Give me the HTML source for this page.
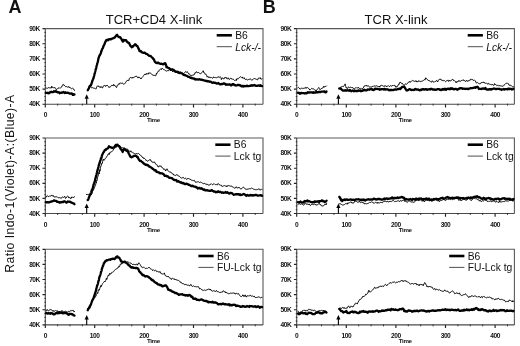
<!DOCTYPE html>
<html><head><meta charset="utf-8"><style>
html,body{margin:0;padding:0;background:#fff;width:520px;height:346px;overflow:hidden}
svg{display:block;will-change:transform;filter:blur(0.3px)}
text{font-family:"Liberation Sans", sans-serif;fill:#111}
.tk{font-size:6.6px;letter-spacing:-0.45px;font-weight:bold}
.tm{font-size:6.2px;letter-spacing:-0.4px;font-weight:bold}
.lg{font-size:10.3px}
.ti{font-size:13px}
.pl{font-size:18px;font-weight:bold}
.yl{font-size:12.2px}
</style></head><body>
<svg width="520" height="346" viewBox="0 0 520 346">
<text x="8.5" y="12.8" class="pl">A</text>
<text x="262.8" y="12.8" class="pl">B</text>
<text x="154" y="23.8" class="ti" text-anchor="middle">TCR+CD4 X-link</text>
<text x="396" y="23.8" class="ti" text-anchor="middle">TCR X-link</text>
<text transform="translate(13.6 183.8) rotate(-90)" class="yl" text-anchor="middle" textLength="178" lengthAdjust="spacing">Ratio Indo-1(Violet)-A:(Blue)-A</text>
<path d="M45.3 28.6H263V104.2" fill="none" stroke="#5a5a5a" stroke-width="1.1"/>
<path d="M45.3 28.6V104.2H263" fill="none" stroke="#4a4a4a" stroke-width="1.1"/>
<path d="M42.5 104.2H45.3M42.5 89.08H45.3M42.5 73.96H45.3M42.5 58.84H45.3M42.5 43.72H45.3M42.5 28.6H45.3M45.3 104.2V107.4M94.7 104.2V107.4M144.1 104.2V107.4M193.5 104.2V107.4M242.9 104.2V107.4" stroke="#222" stroke-width="1.15" fill="none"/>
<path d="M44.3 100.42H46M44.3 96.64H46M44.3 92.86H46M44.3 85.3H46M44.3 81.52H46M44.3 77.74H46M44.3 70.18H46M44.3 66.4H46M44.3 62.62H46M44.3 55.06H46M44.3 51.28H46M44.3 47.5H46M44.3 39.94H46M44.3 36.16H46M44.3 32.38H46M57.65 103.7V105.7M70 103.7V105.7M82.35 103.7V105.7M107.05 103.7V105.7M119.4 103.7V105.7M131.75 103.7V105.7M156.45 103.7V105.7M168.8 103.7V105.7M181.15 103.7V105.7M205.85 103.7V105.7M218.2 103.7V105.7M230.55 103.7V105.7M255.25 103.7V105.7" stroke="#222" stroke-width="0.8" fill="none"/>
<text x="39.9" y="106.3" class="tk" text-anchor="end">40K</text>
<text x="39.9" y="91.18" class="tk" text-anchor="end">50K</text>
<text x="39.9" y="76.06" class="tk" text-anchor="end">60K</text>
<text x="39.9" y="60.94" class="tk" text-anchor="end">70K</text>
<text x="39.9" y="45.82" class="tk" text-anchor="end">80K</text>
<text x="39.9" y="30.7" class="tk" text-anchor="end">90K</text>
<text x="45.3" y="117.2" class="tk" text-anchor="middle">0</text>
<text x="94.7" y="117.2" class="tk" text-anchor="middle">100</text>
<text x="144.1" y="117.2" class="tk" text-anchor="middle">200</text>
<text x="193.5" y="117.2" class="tk" text-anchor="middle">300</text>
<text x="242.9" y="117.2" class="tk" text-anchor="middle">400</text>
<text x="153.38" y="122.2" class="tm" text-anchor="middle">Time</text>
<path d="M216.7 35.3H231.9" stroke="#000" stroke-width="2.6"/>
<path d="M216.7 46.7H231.9" stroke="#222" stroke-width="0.8"/>
<text x="235.2" y="39" class="lg">B6</text>
<text x="235.2" y="50.6" class="lg" font-style="italic">Lck-/-</text>
<path d="M46 88 46.58 88.15 47.17 88.39 47.75 88.12 48.33 87.78 48.92 87.35 49.5 88.03 50.06 87.66 50.62 87.88 51.18 88.13 51.74 86.22 52.3 87.64 52.82 87.13 53.35 87.59 53.88 87.87 54.4 87.61 54.87 87.34 55.33 88.48 55.8 89.28 56.32 89.78 56.85 88.82 57.38 88.68 57.9 88.47 58.44 87.96 58.98 88.43 59.52 87.86 60.06 88.1 60.6 87.87 61.12 87.46 61.65 87.12 62.18 85.54 62.7 85.28 62.93 84.52 63.17 84.35 63.4 84.79 63.75 84.76 64.1 85.57 64.45 85.37 64.8 86 65.5 86.6 66.2 86.45 66.85 86.79 67.5 87.15 67.97 86.73 68.43 86.79 68.9 86.46 69.37 87.88 69.83 87.14 70.3 87.61 70.77 88.37 71.23 88.45 71.7 88.9 72.4 88.23 73.1 88.51 73.57 88.92 74.03 90.07 74.5 90.4" fill="none" stroke="#000" stroke-width="1.0" stroke-linejoin="round" stroke-linecap="round"/>
<path d="M87.75 90.25 88.17 88.62 88.6 88.45 89.03 88.58 89.45 87.04 89.88 87.04 90.3 86.82 90.95 87.46 91.6 87.75 92.25 87.66 92.9 87.67 93.55 88.09 94.2 88.18 94.85 88.38 95.5 88.72 95.87 89.1 96.24 88.64 96.61 87.21 96.99 86.64 97.36 85.82 97.73 86.2 98.1 85.96 98.53 85.91 98.97 86.98 99.4 87.08 99.83 86.84 100.27 86.67 100.7 87.6 101.22 86.56 101.74 87.16 102.26 87.95 102.78 87.72 103.3 86.04 103.88 85.46 104.47 85.55 105.05 85.88 105.63 86.41 106.22 85.04 106.8 85.7 107.38 85.4 107.97 86.05 108.55 86.85 109.13 87.66 109.72 86.77 110.3 86.83 110.87 86.37 111.43 85.4 112 85.41 112.57 85.44 113.13 85.93 113.7 84.35 114.28 85.61 114.87 85.37 115.45 86.56 116.03 87.01 116.62 87.53 117.2 85.57 117.64 84.93 118.08 85.19 118.51 84.58 118.95 83.67 119.39 84.22 119.83 83.1 120.26 83.04 120.7 83.06 121.27 83.28 121.83 83.35 122.4 83.1 122.97 83.44 123.53 84.28 124.1 83.95 124.5 83.96 124.9 83.32 125.3 83.11 125.7 82.41 126.1 81.51 126.5 81.16 127 81.06 127.5 80.39 128 80.18 128.5 80.9 128.92 80.24 129.34 78.58 129.76 77.95 130.18 77.86 130.6 77.42 131.2 77.45 131.8 78.29 132.4 77.27 133 78.11 133.6 77.4 134.2 77.04 134.8 76.87 135.4 76.64 135.97 75.89 136.53 76.41 137.1 76.62 137.67 77.78 138.23 77.82 138.8 76.84 139.37 77.58 139.93 77.72 140.5 78.62 140.9 77.9 141.3 78.73 141.7 77.91 142.1 77.59 142.5 77.09 142.9 76.57 143.3 76.12 143.7 75.43 144.1 75.07 144.5 74.32 145.01 74.94 145.53 73.88 146.04 74.57 146.55 73.46 147.06 74.15 147.57 73.7 148.09 74.23 148.6 72.87 149.3 73.2 150 72.64 150.5 72.88 151 73.59 151.5 74.24 152 74.75 152.5 74.91 153 75.24 153.5 75.09 154.02 75.86 154.54 75.3 155.06 75.39 155.58 75.87 156.1 75.04 156.49 73 156.88 73.41 157.27 72.51 157.66 72.38 158.05 71.52 158.45 71.08 158.84 71.44 159.23 70.16 159.62 69.75 160.01 69.64 160.4 69.3 160.92 68.73 161.44 69.62 161.96 68.23 162.48 68.45 163 68.71 163.45 69.1 163.9 69.77 164.35 69.83 164.8 69.95 165.37 70.48 165.93 71 166.5 71.08 167 70.67 167.5 70.64 168 70.44 168.5 70.62 169 70.35 169.5 69.06 170 68.87 170.56 69.54 171.11 69.78 171.67 70.51 172.22 71.03 172.78 71.84 173.33 70.79 173.89 71.18 174.44 71.22 175 72.27 175.56 71.45 176.11 72.63 176.67 72.04 177.22 72.77 177.78 72.91 178.33 73.73 178.89 73.24 179.44 73.04 180 73.33 180.5 73.28 181 72.69 181.5 73.4 182 73.33 182.5 72.89 183 73.7 183.61 73.65 184.23 73.07 184.84 72.46 185.46 71.58 186.07 71.89 186.69 72.3 187.3 71.62 187.82 72.73 188.34 73.13 188.86 74.18 189.38 73.9 189.9 74.72 190.48 75.2 191.07 75.96 191.65 75.3 192.23 75.17 192.82 75.35 193.4 74.98 193.97 75.06 194.53 74.18 195.1 72.52 195.67 72.86 196.23 71.77 196.8 71.83 197.38 72.77 197.97 72.6 198.55 72.51 199.13 72.94 199.72 73.39 200.3 73.69 200.88 73.59 201.47 72.84 202.05 72.49 202.63 71.62 203.22 70.73 203.8 72.64 204.29 72.59 204.77 73.39 205.26 74.47 205.74 74.06 206.23 74.46 206.71 75.64 207.2 77.1 207.78 76.46 208.37 77.56 208.95 76.74 209.53 77.63 210.12 77.96 210.7 77.28 211.28 77.47 211.87 77.81 212.45 78.24 213.03 78.03 213.62 76.86 214.2 77.17 214.65 77.7 215.1 77.88 215.55 77.51 216 77.44 216.58 77.94 217.16 77.27 217.74 77.1 218.32 76.88 218.9 76.77 219.31 77.47 219.73 76.88 220.14 76.71 220.56 77.08 220.97 77.43 221.39 79.58 221.8 78.69 222.38 77.84 222.96 78.12 223.54 78.96 224.12 78.86 224.7 77.55 225.28 77.73 225.86 76.99 226.44 78.32 227.02 78.46 227.6 79.17 228.18 77.76 228.76 78.75 229.34 79.5 229.92 79.14 230.5 78.23 231.07 78.59 231.64 78.54 232.21 79.45 232.78 78.89 233.35 79.29 233.92 79.82 234.49 80.44 235.06 80.28 235.63 79.92 236.2 80.58 236.75 78.78 237.3 79.22 237.85 78.27 238.4 78.6 238.95 77.8 239.5 77.45 240.05 77.04 240.6 76.74 241.14 77.26 241.68 77.49 242.21 77 242.75 78.22 243.29 78.1 243.82 78.1 244.36 77.8 244.9 79.18 245.48 79.56 246.06 78.91 246.64 79.26 247.22 79.88 247.8 80.03 248.41 79.54 249.03 79.57 249.64 79.26 250.26 78.64 250.87 79.46 251.49 80.27 252.1 79.53 252.73 79.83 253.36 79.21 253.99 78.4 254.61 78.61 255.24 78.92 255.87 78.9 256.5 79.23 257.11 79.86 257.72 79.74 258.33 78.17 258.94 78.22 259.56 78.2 260.17 77.55 260.78 79.02 261.39 79.11 262 78.9" fill="none" stroke="#000" stroke-width="1.0" stroke-linejoin="round" stroke-linecap="round"/>
<path d="M46 92.8 46.57 92.96 47.15 92.83 47.72 93.1 48.29 92.8 48.86 93.32 49.44 92.84 50.01 92.22 50.58 92.37 51.15 91.69 51.73 91.98 52.3 92.17 52.86 92.22 53.42 92.02 53.98 91.14 54.54 91.57 55.1 91.62 55.66 91.15 56.22 91.3 56.78 91.97 57.34 92.24 57.9 92.19 58.47 92.36 59.03 92.32 59.6 93.19 60.17 92.65 60.73 92.77 61.3 92.84 61.88 92.42 62.47 92.58 63.05 92.4 63.63 91.96 64.22 92.52 64.8 92.99 65.37 92.32 65.93 92.74 66.5 92.82 67.07 92.83 67.63 92.69 68.2 92.8 68.78 92.91 69.37 93.61 69.95 93.67 70.53 93.72 71.12 93.48 71.7 93.31 72.26 93.94 72.82 94.91 73.38 94.16 73.94 94.74 74.5 94.5" fill="none" stroke="#000" stroke-width="2.3" stroke-linejoin="round" stroke-linecap="round"/>
<path d="M87.75 90.25 88.04 89.65 88.33 89.31 88.61 88.59 88.9 88.22 89.19 87.26 89.47 86.53 89.76 86.02 90.05 86.15 90.34 85.82 90.62 85.58 90.91 85.2 91.2 84.63 91.42 84 91.63 83.23 91.85 82.61 92.07 82.02 92.28 81.05 92.5 80.52 92.72 80.09 92.93 79.59 93.15 79.03 93.37 78.31 93.58 77.98 93.8 76.91 93.94 76.46 94.09 75.99 94.23 75.52 94.38 74.74 94.52 73.96 94.67 73.53 94.81 73.12 94.96 72.55 95.1 71.97 95.24 71.53 95.39 71 95.53 70.49 95.68 69.22 95.82 69.31 95.97 68.76 96.11 68.54 96.26 67.94 96.4 66.58 96.55 65.77 96.71 65.48 96.86 65.16 97.01 64.82 97.16 63.55 97.32 63.11 97.47 62.89 97.62 62.59 97.78 61.75 97.93 61.4 98.08 60.51 98.24 59.51 98.39 58.85 98.54 58.37 98.69 57.89 98.85 57.17 99 56.92 99.22 56.4 99.43 55.46 99.65 55.34 99.87 55.29 100.08 54.72 100.3 54.26 100.52 53.73 100.73 53.37 100.95 52.9 101.17 52.12 101.38 50.96 101.6 50.88 101.84 50.02 102.07 49.32 102.31 48.73 102.55 48.34 102.78 48.35 103.02 47.73 103.25 46.95 103.49 46.11 103.73 45.68 103.96 45.24 104.2 44.59 104.53 44.07 104.85 43.04 105.17 42.08 105.5 41.77 105.83 40.96 106.15 40.27 106.47 40.46 106.8 39.97 107.38 39.58 107.97 40.29 108.55 39.69 109.13 39.09 109.72 39.29 110.3 39.16 110.87 39.29 111.43 38.77 112 38.56 112.57 38.5 113.13 38.08 113.7 38 114.12 37.65 114.55 37.69 114.97 37.14 115.4 36.76 115.83 35.91 116.25 35.55 116.67 35.24 117.1 34.82 117.52 35.61 117.94 36.31 118.36 36.65 118.78 36.71 119.2 37.16 119.7 37.34 120.2 37.14 120.7 37.91 121.2 38.47 121.41 38.95 121.63 39.64 121.84 40.05 122.06 39.87 122.27 40.44 122.49 41.06 122.7 41.66 122.95 41.35 123.2 41.09 123.45 41.17 123.7 39.88 124.35 40.49 125 40.19 125.65 40.04 126.3 40.45 126.67 41.39 127.05 41.81 127.42 42.32 127.8 42.29 128.18 42.28 128.55 43.1 128.93 43.07 129.3 43.32 129.66 44.19 130.01 44.94 130.37 45.81 130.73 46.08 131.09 46.39 131.44 46.97 131.8 47.28 132.32 46.41 132.84 46.69 133.36 45.85 133.88 45.62 134.4 45.01 134.73 44.88 135.07 44.23 135.4 44.27 135.8 44.64 136.2 45.09 136.6 45.84 137 46 137.4 46.04 137.69 46.75 137.97 47.33 138.26 48.15 138.54 48.69 138.83 49.2 139.11 49.62 139.4 50.97 139.9 51.15 140.4 51.39 140.9 51.07 141.4 51.91 141.9 52.44 142.4 52.48 142.92 52.67 143.43 52.79 143.95 52.93 144.47 52.56 144.98 52.92 145.5 53.31 146.07 53.8 146.64 53.93 147.21 54.05 147.79 54.74 148.36 55.14 148.93 55.65 149.5 55.9 149.94 55.85 150.39 56.02 150.83 56.27 151.27 56.57 151.71 57.23 152.16 57.6 152.6 57.79 152.94 58.18 153.29 59.05 153.63 59 153.97 59.41 154.31 60.5 154.66 61.3 155 61.98 155.5 62.05 156 62.85 156.5 62.99 157 62.88 157.57 63.04 158.13 62.56 158.7 63.02 159.27 63.48 159.83 63.63 160.4 63.77 160.98 63.68 161.57 63.91 162.15 63.91 162.73 64.36 163.32 64.3 163.9 64.18 164.22 63.46 164.55 63.41 164.88 63.25 165.2 63.14 165.36 63.54 165.52 63.99 165.69 64.38 165.85 64.25 166.01 64.86 166.18 65.5 166.34 66.64 166.5 67.22 167.02 66.98 167.54 67.36 168.06 67.71 168.58 68.06 169.1 68.15 169.68 68.69 170.27 69.2 170.85 69.9 171.43 69.71 172.02 69.3 172.6 69.46 173.18 69.89 173.77 69.99 174.35 70.77 174.93 71.05 175.52 71.74 176.1 71.61 176.68 71.94 177.27 71.86 177.85 71.75 178.43 72.31 179.02 72.5 179.6 73.05 180.17 72.47 180.73 72.89 181.3 73.26 181.87 73.44 182.43 73.56 183 74.51 183.58 74.64 184.17 75.1 184.75 74.95 185.33 75.45 185.92 75.54 186.5 75.56 187.07 75.97 187.63 76.33 188.2 76.9 188.77 76.82 189.33 76.97 189.9 77.44 190.47 77.9 191.03 77.8 191.6 77.76 192.18 78.42 192.76 78.48 193.33 78.57 193.91 78.37 194.49 78.93 195.07 79.5 195.64 79.14 196.22 79.47 196.8 79.48 197.38 79.33 197.96 79.4 198.53 79.69 199.11 79.32 199.69 79.27 200.27 79.56 200.84 79.66 201.42 79.84 202 79.73 202.58 80.12 203.16 80.22 203.73 80.23 204.31 80.57 204.89 80.69 205.47 80.75 206.04 81.03 206.62 80.95 207.2 81.38 207.79 81.04 208.38 81.45 208.97 81.42 209.56 81.76 210.14 81.53 210.73 81.69 211.32 82.29 211.91 82.62 212.5 82.84 213.08 82.53 213.66 82.44 214.23 82.95 214.81 82.73 215.39 83.01 215.97 83.01 216.54 83.5 217.12 83.51 217.7 83.38 218.28 83.03 218.86 83.69 219.43 83.8 220.01 84.26 220.59 84.15 221.17 84.3 221.74 83.99 222.32 84.05 222.9 83.89 223.49 83.4 224.07 83.68 224.66 83.48 225.25 84.07 225.84 84.72 226.43 84.4 227.01 84.36 227.6 84.67 228.17 84.65 228.74 84.59 229.31 84.33 229.88 84.28 230.45 84.8 231.02 85.42 231.59 85.29 232.16 84.39 232.73 84.19 233.3 84.1 233.88 84.46 234.46 85.19 235.04 85.06 235.62 85.34 236.2 85.54 236.78 85.28 237.36 85.2 237.94 84.82 238.52 84.8 239.1 85.22 239.68 85.39 240.26 85.23 240.84 85.88 241.42 86.26 242 85.84 242.58 85.84 243.16 86.59 243.74 85.9 244.32 86.16 244.9 86.26 245.48 86.21 246.06 85.87 246.64 86.13 247.22 85.74 247.8 86.2 248.38 86.16 248.96 86.03 249.54 85.97 250.12 85.96 250.7 85.52 251.28 85.6 251.86 85.13 252.44 85.73 253.02 85.55 253.6 85.24 254.18 84.99 254.76 85.43 255.34 85.31 255.92 85.82 256.5 85.9 257.11 85.92 257.72 85.66 258.33 85.5 258.94 85.32 259.56 85.88 260.17 85.18 260.78 85.65 261.39 85.92 262 86.1" fill="none" stroke="#000" stroke-width="2.3" stroke-linejoin="round" stroke-linecap="round"/>
<path d="M86.7 104.2V98.4" stroke="#000" stroke-width="1.1"/>
<path d="M84.6 98.8L86.7 94.3L88.8 98.8Z" fill="#000"/>
<path d="M45.3 138H263V213.5" fill="none" stroke="#5a5a5a" stroke-width="1.1"/>
<path d="M45.3 138V213.5H263" fill="none" stroke="#4a4a4a" stroke-width="1.1"/>
<path d="M42.5 213.5H45.3M42.5 198.4H45.3M42.5 183.3H45.3M42.5 168.2H45.3M42.5 153.1H45.3M42.5 138H45.3M45.3 213.5V216.7M94.7 213.5V216.7M144.1 213.5V216.7M193.5 213.5V216.7M242.9 213.5V216.7" stroke="#222" stroke-width="1.15" fill="none"/>
<path d="M44.3 209.72H46M44.3 205.95H46M44.3 202.18H46M44.3 194.62H46M44.3 190.85H46M44.3 187.07H46M44.3 179.53H46M44.3 175.75H46M44.3 171.97H46M44.3 164.43H46M44.3 160.65H46M44.3 156.88H46M44.3 149.32H46M44.3 145.55H46M44.3 141.78H46M57.65 213V215M70 213V215M82.35 213V215M107.05 213V215M119.4 213V215M131.75 213V215M156.45 213V215M168.8 213V215M181.15 213V215M205.85 213V215M218.2 213V215M230.55 213V215M255.25 213V215" stroke="#222" stroke-width="0.8" fill="none"/>
<text x="39.9" y="215.6" class="tk" text-anchor="end">40K</text>
<text x="39.9" y="200.5" class="tk" text-anchor="end">50K</text>
<text x="39.9" y="185.4" class="tk" text-anchor="end">60K</text>
<text x="39.9" y="170.3" class="tk" text-anchor="end">70K</text>
<text x="39.9" y="155.2" class="tk" text-anchor="end">80K</text>
<text x="39.9" y="140.1" class="tk" text-anchor="end">90K</text>
<text x="45.3" y="226.5" class="tk" text-anchor="middle">0</text>
<text x="94.7" y="226.5" class="tk" text-anchor="middle">100</text>
<text x="144.1" y="226.5" class="tk" text-anchor="middle">200</text>
<text x="193.5" y="226.5" class="tk" text-anchor="middle">300</text>
<text x="242.9" y="226.5" class="tk" text-anchor="middle">400</text>
<text x="153.38" y="231.5" class="tm" text-anchor="middle">Time</text>
<path d="M215.3 144.7H230.5" stroke="#000" stroke-width="2.6"/>
<path d="M215.3 156.1H230.5" stroke="#222" stroke-width="0.8"/>
<text x="233.8" y="148.4" class="lg">B6</text>
<text x="233.8" y="160" class="lg">Lck tg</text>
<path d="M46 197.3 46.57 195.99 47.15 195.43 47.72 195.97 48.29 196.61 48.86 196.59 49.44 195.96 50.01 195.93 50.58 196.16 51.15 195.6 51.73 194.96 52.3 196.21 52.92 195.37 53.54 195.8 54.17 197.11 54.79 197.06 55.41 196.83 56.03 197.03 56.66 196.77 57.28 196.87 57.9 197.57 58.44 197.69 58.98 198.03 59.52 197.68 60.06 197.78 60.6 197.99 61.2 198.5 61.8 197.33 62.4 196.99 63 197.33 63.6 197.35 64.2 196.72 64.8 196.33 65.39 198.33 65.97 198.09 66.56 196.94 67.14 196.4 67.73 195.96 68.31 196.77 68.9 198.01 69.46 197.68 70.02 197.44 70.58 198.64 71.14 198.46 71.7 196.96 72.22 197.22 72.75 196.99 73.28 197.74 73.8 197.21 74.5 196.8" fill="none" stroke="#000" stroke-width="1.0" stroke-linejoin="round" stroke-linecap="round"/>
<path d="M86.5 194.5 87.06 194.73 87.61 194.56 88.17 194.83 88.72 194.34 89.28 194.7 89.83 194 90.39 194.73 90.94 194.96 91.5 194.6 91.78 193.86 92.06 193.3 92.33 192.01 92.61 191.26 92.89 189.49 93.17 190.24 93.44 190.2 93.72 189.18 94 188.86 94.22 187.78 94.44 187.63 94.65 186.85 94.87 186.68 95.09 186.42 95.31 185.34 95.53 185.25 95.75 184.15 95.96 183.44 96.18 182.33 96.4 182.92 96.55 181.44 96.71 180.32 96.86 180.83 97.01 179.98 97.16 179.82 97.32 178.81 97.47 177.79 97.62 176.98 97.78 176.99 97.93 176.08 98.08 175.77 98.24 175.69 98.39 174.37 98.54 174.48 98.69 173.32 98.85 172.56 99 172.54 99.17 173.99 99.35 172.06 99.52 170.74 99.69 171.45 99.87 169.58 100.04 170.66 100.21 168.85 100.39 168.63 100.56 167.22 100.73 166.79 100.91 165.95 101.08 166.01 101.25 165.25 101.43 163.57 101.6 164.02 101.84 163.62 102.07 163.3 102.31 163.31 102.55 161.68 102.79 161.2 103.03 159.62 103.26 160.23 103.5 159.2 103.88 159.69 104.25 160.23 104.62 159.58 105 158.74 105.44 158.22 105.89 157.94 106.33 157.41 106.78 156.39 107.22 155.75 107.67 155.58 108.11 154.07 108.56 154.23 109 153.3 109.41 154.4 109.82 152.93 110.23 151.9 110.64 152.29 111.05 151.78 111.46 151.93 111.87 151.45 112.28 151.19 112.69 150.77 113.1 150.43 113.5 148.92 113.9 149.08 114.3 148.47 114.7 148.24 115.1 147.35 115.5 147.34 115.9 147.77 116.3 147.42 116.7 145.96 117.1 145.66 117.66 146.27 118.21 146.35 118.77 146.03 119.33 146.2 119.89 146.04 120.44 146.71 121 147.99 121.53 147.66 122.05 147.64 122.58 147.8 123.1 148.08 123.62 148.09 124.15 147.55 124.67 148.6 125.2 148.46 125.76 149.21 126.32 149.57 126.88 148.7 127.44 149.88 128 149.75 128.55 150.04 129.1 151.47 129.65 152.08 130.2 151.82 130.75 150.74 131.3 152 131.81 152.28 132.33 152.6 132.84 152.31 133.35 152.81 133.86 153.17 134.38 153.76 134.89 153.55 135.4 154.07 135.97 153.42 136.54 153.54 137.11 153.82 137.69 153.76 138.26 153.42 138.83 153.64 139.4 154.19 139.91 155.01 140.43 155.22 140.94 155.77 141.45 155.96 141.96 156.82 142.47 157.56 142.99 157.18 143.5 158.42 144 158.54 144.5 158.38 145 158.69 145.5 159.4 146 160.58 146.5 160.34 147 160.83 147.5 161.39 148.09 160.43 148.67 160.45 149.26 159.92 149.84 159.8 150.43 159.56 151.01 161.11 151.6 161.27 152.09 162.19 152.57 162.25 153.06 162.73 153.54 162.29 154.03 161.73 154.51 162.64 155 162.53 155.33 163.27 155.67 164.08 156 163.84 156.53 164.4 157.05 165.09 157.58 166.2 158.11 166.94 158.64 167.06 159.16 165.72 159.69 165.95 160.22 166.47 160.75 165.7 161.27 166.34 161.8 167.51 162.28 167.83 162.76 167.68 163.23 168.32 163.71 169.43 164.19 168.94 164.67 169.04 165.14 169.83 165.62 171 166.1 169.92 166.59 169.05 167.08 168.79 167.57 169.96 168.06 170.78 168.54 171.32 169.03 171.61 169.52 171.92 170.01 171.6 170.5 171.89 171.04 172.87 171.57 172.84 172.11 173.59 172.65 173.83 173.19 173.87 173.73 175.02 174.26 175.14 174.8 175.31 175.41 175.6 176.03 174.69 176.64 174.8 177.26 174.91 177.87 175.16 178.49 176.15 179.1 175.96 179.68 176.6 180.26 177.32 180.84 177.79 181.42 178.08 182 177.59 182.58 177.73 183.16 177.26 183.74 178.21 184.32 178.54 184.9 178.69 185.51 178.18 186.13 178.59 186.74 179.53 187.36 178.6 187.97 178.19 188.59 178.59 189.2 179.13 189.75 178.89 190.3 179.05 190.85 179.83 191.4 180.16 191.95 180.14 192.5 180.38 193.05 180.7 193.6 180.58 194.18 180.24 194.76 180.91 195.35 182.27 195.93 182.15 196.51 182.13 197.09 182.2 197.67 181.77 198.25 181.57 198.84 181.83 199.42 182.52 200 182.26 200.56 182.1 201.11 182.18 201.67 182.75 202.22 183.15 202.78 183.29 203.33 183.44 203.89 183.95 204.44 183.48 205 183.38 205.62 184.22 206.25 183.87 206.88 184.82 207.5 184.3 208.12 185.13 208.75 185.02 209.38 184.93 210 184.84 210.62 184.04 211.25 183.68 211.88 184.36 212.5 184.82 213.12 184.02 213.75 183.87 214.38 183.84 215 184.47 215.62 184.62 216.25 184.64 216.88 184.52 217.5 184.88 218.12 183.51 218.75 184.28 219.38 184.74 220 184.59 220.62 185.34 221.25 185.2 221.88 186.42 222.5 186.34 223.12 186.28 223.75 185.7 224.38 185.56 225 185.88 225.62 186.14 226.25 185.81 226.88 186.93 227.5 185.67 228.12 185.64 228.75 185.53 229.38 185.82 230 185.88 230.62 186.15 231.25 186.09 231.88 186.26 232.5 187.06 233.12 186.81 233.75 187.62 234.38 188.18 235 187.89 235.62 187.82 236.25 186.71 236.88 187.81 237.5 188.15 238.12 187.27 238.75 187.61 239.38 187.58 240 188.15 240.62 189.08 241.25 188.85 241.88 188.46 242.5 187.67 243.12 187.25 243.75 187.29 244.38 188.09 245 188.84 245.62 189.13 246.25 189 246.88 189.74 247.5 189.15 248.12 189.08 248.75 188.87 249.38 188.69 250 188.96 250.62 188.66 251.25 188.07 251.88 188.35 252.5 188.46 253.12 189.02 253.75 189.19 254.38 189.36 255 189.57 255.58 189.62 256.17 189.32 256.75 189.86 257.33 189.56 257.92 189.41 258.5 188.98 259.08 189 259.67 189.16 260.25 190.26 260.83 189.59 261.42 188.92 262 189.5" fill="none" stroke="#000" stroke-width="1.0" stroke-linejoin="round" stroke-linecap="round"/>
<path d="M46 202.1 46.61 202.34 47.23 202.3 47.84 202.08 48.45 202.28 49.06 202.31 49.67 202.08 50.29 201.78 50.9 201.65 51.46 201.36 52.02 201.5 52.58 201.29 53.14 201 53.7 200.5 54.3 200.4 54.9 200.97 55.5 200.84 56.1 200.83 56.7 201.57 57.3 201.81 57.9 201.76 58.47 202.04 59.03 202.16 59.6 202.74 60.17 202.49 60.73 202.13 61.3 202.28 61.88 201.88 62.47 202.1 63.05 202.19 63.63 201.44 64.22 201.18 64.8 201.47 65.37 201.94 65.93 202.25 66.5 202.75 67.07 202.19 67.63 201.52 68.2 201.53 68.78 201.66 69.37 201.96 69.95 201.63 70.53 202.12 71.12 202.4 71.7 202.7 72.26 202.91 72.82 203.23 73.38 203.31 73.94 203.58 74.5 204.2" fill="none" stroke="#000" stroke-width="2.3" stroke-linejoin="round" stroke-linecap="round"/>
<path d="M87.75 200 87.98 199.81 88.21 199.59 88.45 198.87 88.68 198.03 88.91 197.41 89.14 197.08 89.37 196.31 89.6 195.67 89.84 195.24 90.07 194.85 90.3 194.52 90.54 193.5 90.77 193.67 91.01 193.27 91.25 192.47 91.48 191.57 91.72 190.17 91.95 189.77 92.19 189.48 92.43 188.91 92.66 188.24 92.9 187.75 93.06 186.63 93.23 186.7 93.39 185.51 93.55 184.71 93.71 184.58 93.88 183.85 94.04 183.45 94.2 182.93 94.36 182.71 94.53 182.01 94.69 181.8 94.85 181.09 95.01 180.78 95.17 179.69 95.34 178.57 95.5 178.21 95.64 178.02 95.79 177.23 95.93 176.53 96.08 175.85 96.22 175.8 96.37 175.66 96.51 174.88 96.66 173.42 96.8 173.35 96.94 173.04 97.09 172.53 97.23 171.8 97.38 170.67 97.52 170.58 97.67 169.36 97.81 169.17 97.96 168.69 98.1 168.21 98.27 167.67 98.45 167.06 98.62 166.08 98.79 165.3 98.97 164.56 99.14 164.14 99.31 163.7 99.49 163.33 99.66 162.69 99.83 162.32 100.01 161.53 100.18 160.89 100.35 160.76 100.53 160.21 100.7 159.54 100.92 158.36 101.13 157.96 101.35 158.08 101.57 157.19 101.78 156.32 102 155.25 102.22 154.93 102.43 154.34 102.65 153.95 102.87 153.79 103.08 153.04 103.3 152.4 103.64 152.14 103.98 151.92 104.32 151.06 104.66 150.37 105 150.19 105.4 149.63 105.8 149.86 106.2 148.8 106.6 148.89 107 148.75 107.5 148.47 108 148.17 108.5 147.16 109 146.32 109.59 146.74 110.17 147.14 110.76 147.39 111.34 147.36 111.93 147.84 112.51 147.94 113.1 147.64 113.6 147.49 114.1 147.09 114.6 146.65 115.1 145.97 115.6 145.13 116.1 144.95 116.6 144.8 117.1 144.77 117.54 144.66 117.99 145.39 118.43 145.89 118.87 146.29 119.31 146.26 119.76 146.93 120.2 148.2 120.56 148.68 120.91 149.35 121.27 149.63 121.63 150.02 121.99 150.64 122.34 151.38 122.7 151.95 123.08 150.83 123.45 150.03 123.83 149.21 124.2 149.41 124.72 149.58 125.23 149.46 125.75 150.17 126.27 150.51 126.78 150.85 127.3 151.23 127.63 151.37 127.97 151.73 128.3 152.27 128.63 153.4 128.97 153.98 129.3 154.47 129.63 155.12 129.97 156.05 130.3 156.63 130.8 156.79 131.3 157.22 131.8 157.36 132.3 156.66 132.92 156.6 133.54 156.16 134.16 155.89 134.78 155.88 135.4 155.51 135.9 155.95 136.4 156.08 136.9 157.1 137.4 156.61 137.73 157.19 138.07 157.89 138.4 158.59 138.73 159.39 139.07 159.94 139.4 160.06 139.86 160.75 140.31 160.56 140.77 160.97 141.22 161.15 141.68 161.83 142.13 162.06 142.59 162.18 143.04 162.67 143.5 163.52 144.07 163.51 144.64 164.07 145.21 164.56 145.79 164.87 146.36 164.58 146.93 165.03 147.5 164.8 148.01 165.31 148.53 166 149.04 166.69 149.55 166.48 150.06 166.88 150.57 167.08 151.09 167.51 151.6 167.78 152.03 168.28 152.45 168.43 152.88 168.95 153.3 169.07 153.72 169.49 154.15 169.91 154.57 170.31 155 170.46 155.53 170.13 156.06 170.7 156.59 171.94 157.12 171.76 157.65 172.01 158.18 172.38 158.71 172.32 159.24 172.52 159.77 173.35 160.3 173.4 160.85 173.15 161.4 173.27 161.95 173.35 162.5 173.36 163.05 174.03 163.6 174.16 164.15 174.94 164.7 175.93 165.18 175.95 165.66 175.69 166.13 175.75 166.61 176.39 167.09 176.45 167.57 176.15 168.04 176.4 168.52 177.24 169 177.66 169.55 177.92 170.1 177.79 170.65 177.94 171.2 178 171.75 178.19 172.3 178.4 172.85 179.2 173.4 179.31 173.94 179.91 174.47 180.04 175.01 179.96 175.55 180.16 176.09 179.96 176.62 180.89 177.16 181.58 177.7 180.84 178.24 181.06 178.77 181.7 179.31 181.69 179.85 182.33 180.39 182.18 180.93 182.72 181.46 182.42 182 182.91 182.63 183.41 183.26 182.96 183.89 183.26 184.51 183.98 185.14 183.96 185.77 184.05 186.4 183.71 186.94 183.63 187.47 184.32 188.01 184.21 188.55 184.77 189.09 184.77 189.62 185.07 190.16 185.07 190.7 185.74 191.31 186.17 191.93 186.14 192.54 185.7 193.16 186.09 193.77 186.5 194.39 186.67 195 186.56 195.56 187.09 196.11 186.89 196.67 187.44 197.22 187.78 197.78 188.48 198.33 188.03 198.89 188.01 199.44 187.84 200 188.54 200.56 188.59 201.11 188.64 201.67 188.24 202.22 188.83 202.78 189.37 203.33 189.3 203.89 189.83 204.44 189.44 205 190.27 205.62 190.48 206.25 190.35 206.88 190.2 207.5 190.4 208.12 190.59 208.75 190.64 209.38 190.8 210 190.87 210.62 190.93 211.25 190.2 211.88 190.13 212.5 190.72 213.12 191.06 213.75 191.5 214.38 191.48 215 191.56 215.62 192.21 216.25 191.86 216.88 192.03 217.5 192.01 218.12 191.33 218.75 191.97 219.38 192.13 220 191.67 220.62 192.01 221.25 192.27 221.88 192.8 222.5 192.52 223.12 192.87 223.75 192.68 224.38 192.72 225 192.6 225.62 192.07 226.25 192.82 226.88 192.51 227.5 192.24 228.12 192.97 228.75 193.28 229.38 193.66 230 192.95 230.62 193.01 231.25 192.99 231.88 193.19 232.5 193.69 233.12 194.25 233.75 194.8 234.38 194.7 235 194.49 235.62 194.13 236.25 194.25 236.88 194.17 237.5 194.38 238.12 194.24 238.75 194.04 239.38 194.8 240 194.26 240.62 195.05 241.25 194.94 241.88 194.78 242.5 194.56 243.12 194.23 243.75 193.89 244.38 194.32 245 194.68 245.62 195.27 246.25 195.72 246.88 195.26 247.5 194.83 248.12 195.42 248.75 195.58 249.38 195.52 250 195.09 250.62 195.01 251.25 195.44 251.88 195.07 252.5 195.53 253.12 195.26 253.75 195.48 254.38 195.16 255 194.98 255.58 194.98 256.17 195.06 256.75 194.99 257.33 195.54 257.92 195.69 258.5 195.51 259.08 195.41 259.67 195.48 260.25 195.36 260.83 195.1 261.42 195.66 262 195.75" fill="none" stroke="#000" stroke-width="2.3" stroke-linejoin="round" stroke-linecap="round"/>
<path d="M86.7 213.5V207.7" stroke="#000" stroke-width="1.1"/>
<path d="M84.6 208.1L86.7 203.6L88.8 208.1Z" fill="#000"/>
<path d="M45.3 249.3H263V324.9" fill="none" stroke="#5a5a5a" stroke-width="1.1"/>
<path d="M45.3 249.3V324.9H263" fill="none" stroke="#4a4a4a" stroke-width="1.1"/>
<path d="M42.5 324.9H45.3M42.5 309.78H45.3M42.5 294.66H45.3M42.5 279.54H45.3M42.5 264.42H45.3M42.5 249.3H45.3M45.3 324.9V328.1M94.7 324.9V328.1M144.1 324.9V328.1M193.5 324.9V328.1M242.9 324.9V328.1" stroke="#222" stroke-width="1.15" fill="none"/>
<path d="M44.3 321.12H46M44.3 317.34H46M44.3 313.56H46M44.3 306H46M44.3 302.22H46M44.3 298.44H46M44.3 290.88H46M44.3 287.1H46M44.3 283.32H46M44.3 275.76H46M44.3 271.98H46M44.3 268.2H46M44.3 260.64H46M44.3 256.86H46M44.3 253.08H46M57.65 324.4V326.4M70 324.4V326.4M82.35 324.4V326.4M107.05 324.4V326.4M119.4 324.4V326.4M131.75 324.4V326.4M156.45 324.4V326.4M168.8 324.4V326.4M181.15 324.4V326.4M205.85 324.4V326.4M218.2 324.4V326.4M230.55 324.4V326.4M255.25 324.4V326.4" stroke="#222" stroke-width="0.8" fill="none"/>
<text x="39.9" y="327" class="tk" text-anchor="end">40K</text>
<text x="39.9" y="311.88" class="tk" text-anchor="end">50K</text>
<text x="39.9" y="296.76" class="tk" text-anchor="end">60K</text>
<text x="39.9" y="281.64" class="tk" text-anchor="end">70K</text>
<text x="39.9" y="266.52" class="tk" text-anchor="end">80K</text>
<text x="39.9" y="251.4" class="tk" text-anchor="end">90K</text>
<text x="45.3" y="337.9" class="tk" text-anchor="middle">0</text>
<text x="94.7" y="337.9" class="tk" text-anchor="middle">100</text>
<text x="144.1" y="337.9" class="tk" text-anchor="middle">200</text>
<text x="193.5" y="337.9" class="tk" text-anchor="middle">300</text>
<text x="242.9" y="337.9" class="tk" text-anchor="middle">400</text>
<text x="153.38" y="342.9" class="tm" text-anchor="middle">Time</text>
<path d="M198.4 256H213.6" stroke="#000" stroke-width="2.6"/>
<path d="M198.4 267.4H213.6" stroke="#222" stroke-width="0.8"/>
<text x="216.9" y="259.7" class="lg">B6</text>
<text x="216.9" y="271.3" class="lg">FU-Lck tg</text>
<path d="M46 310.4 46.58 310.81 47.17 309.48 47.75 310.53 48.33 311.05 48.92 310.35 49.5 309.94 50.11 309.53 50.73 309.66 51.34 309.65 51.95 310.27 52.56 311.24 53.17 310.33 53.79 311.54 54.4 311.18 54.98 311.12 55.57 310.5 56.15 310.78 56.73 311.08 57.32 310.58 57.9 312.02 58.49 311.75 59.07 312.07 59.66 311.85 60.24 311.71 60.83 311.86 61.41 311.54 62 310.38 62.6 311.47 63.2 312.17 63.8 311.6 64.4 311.7 65 311.52 65.6 311.24 66.2 311.39 66.79 311.71 67.37 312.1 67.96 311.82 68.54 311.28 69.13 312.18 69.71 311.38 70.3 311.17 70.88 310.33 71.47 310.68 72.05 310.88 72.63 310.36 73.22 310.28 73.8 311.76 74.5 311.6" fill="none" stroke="#000" stroke-width="1.0" stroke-linejoin="round" stroke-linecap="round"/>
<path d="M87.75 309.5 88.1 308.51 88.45 307.42 88.8 307.85 89.15 306.9 89.5 308.14 89.76 308.19 90.02 307.66 90.28 306.54 90.55 305.29 90.81 304.85 91.07 304.67 91.33 303.74 91.59 302.55 91.85 301.64 92.12 300.01 92.38 300.97 92.64 300.68 92.9 299.46 93.27 298.28 93.64 298.14 94.01 298.31 94.39 297.17 94.76 297.32 95.13 297.28 95.5 297.15 95.76 296.19 96.02 296.02 96.28 294.69 96.54 294.29 96.8 294.09 97.06 293.13 97.32 292.6 97.58 293.43 97.84 293.36 98.1 291.63 98.36 289.76 98.61 289.97 98.87 289.68 99.13 290.31 99.39 290 99.64 288.89 99.9 288.28 100.27 287.11 100.64 285.89 101.01 285.41 101.39 286.47 101.76 285.02 102.13 284.68 102.5 283.7 103 283.21 103.5 282.59 104 282.11 104.5 281.09 105 281.81 105.27 281.49 105.55 280.64 105.82 280.3 106.09 279.45 106.36 278.4 106.64 279.45 106.91 279.43 107.18 277.8 107.45 277.04 107.73 276.54 108 275.56 108.39 275.13 108.78 275.9 109.16 274.65 109.55 273.46 109.94 274.4 110.32 273.48 110.71 273.72 111.1 273.73 111.54 272.71 111.99 272.61 112.43 272.13 112.88 272.25 113.32 271.85 113.77 271.46 114.21 270.71 114.66 270.24 115.1 269.56 115.61 269.29 116.12 268.76 116.64 269.07 117.15 268.33 117.66 267.9 118.17 267.84 118.69 266.29 119.2 266.58 119.56 266.76 119.91 265.38 120.27 264.16 120.63 264.53 120.99 263.9 121.34 263.2 121.7 264.16 122.28 263.19 122.87 262.36 123.45 262.32 124.03 262.4 124.62 261.87 125.2 260.82 125.79 261.46 126.37 262.47 126.96 262.11 127.54 261.83 128.13 262.11 128.71 262.31 129.3 262.7 129.87 263.29 130.44 262.98 131.01 263.03 131.59 263.54 132.16 264.15 132.73 264.92 133.3 264.26 133.89 264.34 134.47 264.44 135.06 264.83 135.64 264.76 136.23 263.93 136.81 264.45 137.4 265.24 137.9 263.85 138.4 263.81 138.9 262.75 139.4 263.8 139.83 264.26 140.26 264.58 140.69 265.58 141.11 266.58 141.54 266.54 141.97 267.44 142.4 267.63 142.92 267.43 143.43 267.24 143.95 267.29 144.47 267.67 144.98 268.27 145.5 268.57 146.1 268.17 146.7 268.33 147.3 268.48 147.9 267.84 148.5 267.58 149.01 267.64 149.53 267.56 150.04 268.48 150.55 268.79 151.06 268.68 151.57 269.28 152.09 269.87 152.6 270.63 153.2 269.7 153.8 270.3 154.4 270.81 155 270.42 155.54 269.97 156.08 270.76 156.62 271.61 157.16 271.82 157.7 271.28 158.24 271.7 158.78 271.96 159.32 272.13 159.86 271.46 160.4 273.06 160.97 272.74 161.54 273.72 162.11 274.15 162.69 274.01 163.26 274.04 163.83 273.51 164.4 273.02 164.91 274.76 165.43 275.8 165.94 275.51 166.45 275.99 166.96 276.83 167.47 276.45 167.99 277.04 168.5 276.43 169.07 277.56 169.64 277.93 170.21 278.24 170.79 278.27 171.36 279.54 171.93 278.72 172.5 278.03 173.08 278.51 173.67 278.99 174.25 278.72 174.83 279.8 175.42 279.23 176 280.05 176.46 279.84 176.92 279.81 177.38 280.45 177.84 280.09 178.3 280.39 178.76 280.43 179.22 280.8 179.68 281.57 180.14 282.42 180.6 282.06 181.06 282.11 181.52 283.01 181.98 283.57 182.44 283.67 182.9 283.61 183.47 283.7 184.05 283.93 184.62 284.73 185.2 284.54 185.78 284.17 186.35 285.02 186.93 284.78 187.5 285.19 188.08 284.92 188.65 285.03 189.23 285.8 189.8 285.82 190.38 284.83 190.96 284.29 191.54 285.8 192.12 286.44 192.7 286.33 193.28 285.78 193.86 286.1 194.44 286.43 195.02 286.66 195.6 286.66 196.18 287.12 196.76 286.58 197.34 286.64 197.92 286.89 198.5 286.72 199.07 287.88 199.65 288.91 200.22 288.55 200.79 288.76 201.37 289.12 201.94 289.97 202.51 290.2 203.09 290.51 203.66 290.36 204.23 289.97 204.81 290.1 205.38 290.33 205.95 290.5 206.53 290.01 207.1 290.08 207.68 289.35 208.26 289.17 208.84 289.19 209.42 289.1 210 290.04 210.58 289.12 211.16 290.63 211.74 290.7 212.32 291.29 212.9 290.81 213.48 290.78 214.06 290.62 214.64 290.89 215.22 291.69 215.8 291.03 216.41 290.42 217.03 291.63 217.64 291.64 218.26 291.61 218.87 292.12 219.49 292.54 220.1 292.22 220.71 292.86 221.33 291.81 221.94 292.42 222.56 291.9 223.17 290.67 223.79 291.22 224.4 291.61 224.98 291.34 225.56 292.9 226.14 292.13 226.72 292.93 227.3 293.04 227.88 293.46 228.46 293.9 229.04 293.16 229.62 293.66 230.2 293.43 230.78 292.95 231.36 293.17 231.94 293.43 232.52 293.13 233.1 292.95 233.71 293 234.33 292.97 234.94 293.94 235.56 294.07 236.17 293.06 236.79 293.53 237.4 293.87 238.01 293.9 238.63 293.62 239.24 294.7 239.86 295.66 240.47 296.33 241.09 296.57 241.7 296.5 242.28 296.02 242.86 294.81 243.44 295.43 244.02 296.68 244.6 295.33 245.18 294.93 245.76 296.48 246.34 297.13 246.92 295.95 247.5 295.61 248.08 296.27 248.66 295.69 249.24 295.95 249.82 295.48 250.4 295.17 251.02 296.03 251.64 296.25 252.27 296.04 252.89 295.99 253.51 296.54 254.13 296.05 254.76 297.02 255.38 297.66 256 297.27 256.6 297.51 257.2 297.45 257.8 296.99 258.4 296.87 259 297.1 259.6 297.26 260.2 297.79 260.8 298.03 261.4 297.28 262 297.3" fill="none" stroke="#000" stroke-width="1.0" stroke-linejoin="round" stroke-linecap="round"/>
<path d="M46 313.2 46.61 312.94 47.23 313.51 47.84 313.52 48.45 313.06 49.06 313.35 49.67 313.29 50.29 313.69 50.9 312.93 51.48 313.32 52.07 313.33 52.65 313.47 53.23 314.11 53.82 314.32 54.4 314.44 54.98 313.86 55.57 313.21 56.15 313.23 56.73 312.89 57.32 312.87 57.9 313.38 58.53 312.66 59.15 312.25 59.78 313.11 60.41 312.51 61.04 312.38 61.66 312.98 62.29 313.12 62.92 313.34 63.55 312.76 64.17 313.07 64.8 312.91 65.41 312.88 66.02 313.02 66.63 313.5 67.24 313.59 67.86 313.81 68.47 314.78 69.08 314.55 69.69 314.04 70.3 313.8 70.83 313.8 71.35 314.15 71.88 314.26 72.4 314.26 72.92 314.6 73.45 315.17 73.97 315.36 74.5 315.6" fill="none" stroke="#000" stroke-width="2.3" stroke-linejoin="round" stroke-linecap="round"/>
<path d="M87.75 310.25 88.02 309.19 88.28 308.57 88.55 308.55 88.81 308.43 89.08 308.29 89.34 307.29 89.61 306.51 89.87 306.65 90.14 305.97 90.4 305.24 90.67 304.61 90.93 304.76 91.2 303.46 91.43 302.78 91.67 302 91.9 301.65 92.13 300.74 92.37 300.13 92.6 299.84 92.83 299.42 93.07 298.98 93.3 298.79 93.53 297.88 93.77 297.38 94 296.78 94.23 295.76 94.47 295.28 94.7 294.8 94.85 294.03 95.01 293.35 95.16 292.9 95.31 292.39 95.46 292.07 95.62 291.86 95.77 291.09 95.92 291.06 96.08 290.12 96.23 289.23 96.38 288.61 96.54 288.2 96.69 287.54 96.84 287.16 96.99 286.25 97.15 285.56 97.3 285.14 97.46 285.08 97.62 284.61 97.79 284.07 97.95 283.48 98.11 282.31 98.28 281.98 98.44 281.13 98.6 280.59 98.76 280.66 98.92 279.92 99.09 278.71 99.25 277.67 99.41 277.07 99.58 277.02 99.74 276.23 99.9 275.89 100.07 275.63 100.25 275.09 100.42 274.41 100.59 273.78 100.77 273.25 100.94 272.17 101.11 271.74 101.29 271.28 101.46 270.86 101.63 270.16 101.81 269.3 101.98 268.43 102.15 268.51 102.33 267.55 102.5 267.11 102.73 266.06 102.95 266.19 103.18 265.59 103.41 264.75 103.64 264.27 103.86 263.08 104.09 263.29 104.32 262.87 104.55 262.36 104.77 262.26 105 261.43 105.5 261.32 106 260.93 106.5 260.34 107 260.09 107.5 260.28 108 259.95 108.59 259.7 109.17 259.43 109.76 259.69 110.34 259.82 110.93 259.11 111.51 259.01 112.1 259.07 112.7 258.72 113.3 258.6 113.9 258.98 114.5 259.1 115.1 258.64 115.5 258.18 115.9 257.27 116.3 257.34 116.7 256.77 117.1 256.35 117.54 256.59 117.99 257.46 118.43 257.31 118.87 257.75 119.31 257.68 119.76 258.53 120.2 259.31 120.56 259.86 120.91 261.31 121.27 261.36 121.63 261.17 121.99 261.67 122.34 262.25 122.7 262.08 123.2 262.22 123.7 261.96 124.2 261.7 124.7 262.09 125.2 262.01 125.66 262.43 126.11 262.77 126.57 263.12 127.02 263.24 127.48 263.96 127.93 264.38 128.39 264.87 128.84 265.45 129.3 265.33 129.73 265.67 130.16 266.46 130.59 266.97 131.01 267.14 131.44 267.59 131.87 267.62 132.3 267.1 132.92 267.8 133.54 267.75 134.16 267.83 134.78 268.01 135.4 268.18 136.07 267.96 136.73 267.82 137.4 268.32 137.69 268.27 137.97 268.76 138.26 269.02 138.54 269.34 138.83 270.25 139.11 271.14 139.4 271.44 139.83 271.88 140.26 272.03 140.69 273.04 141.11 273.31 141.54 273.51 141.97 274.5 142.4 274.82 142.99 275.25 143.57 274.88 144.16 275.59 144.74 276.03 145.33 276.47 145.91 276.27 146.5 276.08 147 276.08 147.5 276.52 148 276.84 148.5 276.9 149 277.4 149.5 278.05 150 278.03 150.5 278.61 150.95 278.93 151.4 279.7 151.85 280.12 152.3 280.32 152.75 279.91 153.2 280.52 153.65 281.22 154.1 281.42 154.55 282.06 155 282.08 155.55 282.81 156.1 282.8 156.65 282.81 157.2 283.83 157.75 284.29 158.3 284.46 158.81 284.5 159.33 284.57 159.84 285.14 160.35 284.83 160.86 285.25 161.38 285.27 161.89 286 162.4 286.38 163 286.28 163.6 285.94 164.2 285.79 164.8 285.38 165.4 285.33 165.74 285.73 166.09 285.52 166.43 286.27 166.78 286.46 167.12 286.94 167.47 287.76 167.81 288.35 168.16 289.59 168.5 289.34 169.07 289.95 169.64 290.11 170.21 290.5 170.79 290.32 171.36 290.73 171.93 291.41 172.5 291.6 173.01 291.93 173.53 291.99 174.04 292.06 174.55 292.7 175.06 293.08 175.57 292.9 176.09 292.95 176.6 293.33 177.17 293.34 177.73 294.18 178.3 294.25 178.87 294.85 179.43 294.7 180 294.36 180.56 294.38 181.11 294.43 181.67 294.26 182.22 294.13 182.78 294.62 183.33 294.8 183.89 295.09 184.44 295 185 295.15 185.6 295.62 186.2 295.2 186.8 295.1 187.4 295.35 188 295.74 188.6 295.4 189.2 294.83 189.8 295.04 190.19 295.24 190.58 295.66 190.97 296.68 191.36 296.74 191.74 296.52 192.13 296.53 192.52 297.18 192.91 298.22 193.3 298.67 193.88 298.8 194.46 298.95 195.04 298.49 195.62 299.13 196.2 298.98 196.78 299.8 197.36 299.93 197.94 299.74 198.52 300.03 199.1 300.24 199.68 300.09 200.26 299.74 200.84 299.66 201.42 299.46 202 299.52 202.57 299.87 203.15 300.33 203.72 300.57 204.29 300.82 204.87 300.85 205.44 300.83 206.01 301.06 206.59 300.93 207.16 301.26 207.73 302 208.31 302.32 208.88 301.78 209.45 302.13 210.03 302.08 210.6 302.14 211.18 302.15 211.76 302.34 212.34 301.75 212.92 302.19 213.5 302.62 214.08 302.46 214.66 302.51 215.24 302.58 215.82 302.39 216.4 303.08 216.98 303.12 217.56 303.58 218.14 304.42 218.72 304.1 219.3 304.2 219.91 304.09 220.53 303.97 221.14 304.37 221.76 304.28 222.37 303.61 222.99 303.96 223.6 303.62 224.21 304.42 224.83 304.06 225.44 304.17 226.06 304.41 226.67 304.48 227.29 304.55 227.9 304.52 228.48 304.5 229.06 304.2 229.64 305.38 230.22 304.96 230.8 304.75 231.38 305.32 231.96 305.41 232.54 304.87 233.12 304.9 233.7 304.68 234.28 304.96 234.86 304.95 235.44 304.92 236.02 306.08 236.6 305.89 237.21 305.59 237.83 305.95 238.44 305.79 239.06 306.06 239.67 306.27 240.29 306.64 240.9 306.88 241.51 306.53 242.13 306.71 242.74 305.97 243.36 306.19 243.97 306.27 244.59 306.65 245.2 306.82 245.78 306.69 246.36 306.61 246.94 306.04 247.52 306.38 248.1 306.39 248.68 306.46 249.26 307.01 249.84 306.02 250.42 306.11 251 306.09 251.58 306.13 252.16 306.27 252.74 306.36 253.32 306.59 253.9 306.63 254.48 306.61 255.06 306.1 255.64 306.6 256.21 307.02 256.79 306.55 257.37 306.82 257.95 306.1 258.53 306.66 259.11 306.84 259.69 307.69 260.26 307.4 260.84 306.93 261.42 306.94 262 307.1" fill="none" stroke="#000" stroke-width="2.3" stroke-linejoin="round" stroke-linecap="round"/>
<path d="M86.7 324.9V319.1" stroke="#000" stroke-width="1.1"/>
<path d="M84.6 319.5L86.7 315L88.8 319.5Z" fill="#000"/>
<path d="M296.7 28.6H514.4V104.2" fill="none" stroke="#5a5a5a" stroke-width="1.1"/>
<path d="M296.7 28.6V104.2H514.4" fill="none" stroke="#4a4a4a" stroke-width="1.1"/>
<path d="M293.9 104.2H296.7M293.9 89.08H296.7M293.9 73.96H296.7M293.9 58.84H296.7M293.9 43.72H296.7M293.9 28.6H296.7M296.7 104.2V107.4M346.3 104.2V107.4M395.9 104.2V107.4M445.5 104.2V107.4M495.1 104.2V107.4" stroke="#222" stroke-width="1.15" fill="none"/>
<path d="M295.7 100.42H297.4M295.7 96.64H297.4M295.7 92.86H297.4M295.7 85.3H297.4M295.7 81.52H297.4M295.7 77.74H297.4M295.7 70.18H297.4M295.7 66.4H297.4M295.7 62.62H297.4M295.7 55.06H297.4M295.7 51.28H297.4M295.7 47.5H297.4M295.7 39.94H297.4M295.7 36.16H297.4M295.7 32.38H297.4M309.1 103.7V105.7M321.5 103.7V105.7M333.9 103.7V105.7M358.7 103.7V105.7M371.1 103.7V105.7M383.5 103.7V105.7M408.3 103.7V105.7M420.7 103.7V105.7M433.1 103.7V105.7M457.9 103.7V105.7M470.3 103.7V105.7M482.7 103.7V105.7M507.5 103.7V105.7" stroke="#222" stroke-width="0.8" fill="none"/>
<text x="291.3" y="106.3" class="tk" text-anchor="end">40K</text>
<text x="291.3" y="91.18" class="tk" text-anchor="end">50K</text>
<text x="291.3" y="76.06" class="tk" text-anchor="end">60K</text>
<text x="291.3" y="60.94" class="tk" text-anchor="end">70K</text>
<text x="291.3" y="45.82" class="tk" text-anchor="end">80K</text>
<text x="291.3" y="30.7" class="tk" text-anchor="end">90K</text>
<text x="296.7" y="117.2" class="tk" text-anchor="middle">0</text>
<text x="346.3" y="117.2" class="tk" text-anchor="middle">100</text>
<text x="395.9" y="117.2" class="tk" text-anchor="middle">200</text>
<text x="445.5" y="117.2" class="tk" text-anchor="middle">300</text>
<text x="495.1" y="117.2" class="tk" text-anchor="middle">400</text>
<text x="405.22" y="122.2" class="tm" text-anchor="middle">Time</text>
<path d="M467.7 35.3H482.9" stroke="#000" stroke-width="2.6"/>
<path d="M467.7 46.7H482.9" stroke="#222" stroke-width="0.8"/>
<text x="486.2" y="39" class="lg">B6</text>
<text x="486.2" y="50.6" class="lg" font-style="italic">Lck-/-</text>
<path d="M298 87.75 298.6 87.44 299.2 87.94 299.8 88.85 300.4 88.97 301 88.7 301.62 88.15 302.25 88.57 302.88 88.07 303.5 88.33 304.12 88.25 304.75 87.96 305.38 87.41 306 88.49 306.62 87.48 307.25 87.45 307.88 87.87 308.5 88.41 309.12 88.77 309.75 89.97 310.38 89.71 311 89.17 311.62 88.44 312.25 88.58 312.88 89.06 313.5 88.89 314.12 89.39 314.75 89.86 315.38 89.99 316 91.05 316.56 90.32 317.11 89.53 317.67 88.79 318.22 88.24 318.78 87.49 319.33 88.89 319.89 89.69 320.44 89.34 321 88.97 321.47 88.52 321.94 88.72 322.41 87.8 322.88 88.04 323.34 87.48 323.81 86.1 324.28 86.97 324.75 86.87 325.33 86.33 325.92 86.62 326.5 86" fill="none" stroke="#000" stroke-width="1.0" stroke-linejoin="round" stroke-linecap="round"/>
<path d="M339.25 88.1 339.86 88.66 340.47 87.3 341.07 86.98 341.68 86.69 342.29 86.37 342.9 86.6 343.36 86.7 343.82 86.24 344.28 85.46 344.74 84.56 345.2 83.87 345.42 85.25 345.63 86.17 345.85 86.34 346.07 87.67 346.28 87.35 346.5 88.11 347.05 88.18 347.6 88.62 348.15 87.11 348.7 87.09 349.25 87.5 349.8 87.45 350.39 87.27 350.98 87.11 351.56 87.6 352.15 87.59 352.74 87.41 353.32 88.6 353.91 88.32 354.5 88.71 355.07 88.31 355.65 87.82 356.23 87.52 356.8 88.15 357.38 87.94 357.95 87.81 358.53 87.21 359.1 88.5 359.68 88.64 360.25 88.35 360.82 89.28 361.4 88.92 361.98 88.3 362.55 88.86 363.12 87.97 363.7 87.11 364.27 85.96 364.85 85.64 365.43 85.51 366 86.19 366.57 85.25 367.15 86.06 367.73 86.07 368.3 85.67 368.88 86.63 369.45 87.09 370.02 87.06 370.6 86.86 371.18 86.7 371.75 87.07 372.32 86.79 372.9 86.03 373.47 86.29 374.05 85.64 374.62 86.18 375.2 86.23 375.77 85.98 376.35 85.69 376.93 86.13 377.5 85.98 378.07 86.81 378.65 86.78 379.23 86.04 379.8 87.25 380.38 85.65 380.95 85.4 381.53 85.36 382.1 85.67 382.68 85.63 383.25 86.31 383.82 86.26 384.4 86.57 384.98 85.46 385.55 86.11 386.12 85.92 386.7 86.8 387.29 86.21 387.88 85.98 388.46 85.68 389.05 86.34 389.64 86.63 390.22 85.75 390.81 85.54 391.4 86.06 392 86.1 392.6 85.3 393.2 86.06 393.8 85.44 394.4 85.37 395 85.42 395.6 87.14 396.2 87.15 396.6 87.12 397 86.01 397.4 86.27 397.8 85.87 398.2 84.66 398.6 84.48 399 84.71 399.4 82.98 399.8 82.41 400.2 81.94 400.77 82.84 401.34 83.35 401.91 82.96 402.49 83.98 403.06 84.25 403.63 84.93 404.2 85.3 404.8 84.43 405.4 84.01 406 83.86 406.6 84.32 407.2 83.72 407.8 83.01 408.4 82.14 409 82.09 409.6 81.55 410.14 82.51 410.68 81.57 411.22 81.02 411.76 81.14 412.3 80.9 412.84 80.3 413.38 80.8 413.92 81.24 414.46 81.53 415 80.68 415.6 81.17 416.2 80.71 416.8 81.98 417.4 81.66 418 81.91 418.6 80.69 419.2 80.89 419.8 81.47 420.4 81.7 420.94 81.02 421.48 81.25 422.02 81.09 422.56 81 423.1 80.49 423.64 80.36 424.18 80.16 424.72 79.26 425.26 79.7 425.8 77.75 426.33 78.64 426.86 79 427.39 79.4 427.92 80.35 428.45 80.44 428.98 80.19 429.51 80.99 430.04 81.14 430.57 81.74 431.1 82 431.7 82.11 432.3 80.74 432.9 81.67 433.5 82.05 434.1 82.27 434.7 81.62 435.3 81.42 435.9 81.53 436.5 80.39 437.09 80.85 437.67 81.9 438.26 80.29 438.84 79.99 439.43 79.28 440.01 78.8 440.6 79.18 441.15 80.17 441.7 79.76 442.25 80.78 442.8 80.47 443.35 80.66 443.9 80.3 444.45 80.53 445 81.28 445.57 81.63 446.14 81.24 446.71 80.73 447.29 80.57 447.86 79.92 448.43 81.36 449 80.97 449.59 80.17 450.17 81.28 450.76 80.64 451.34 80.04 451.93 80.23 452.51 79.35 453.1 79.44 453.6 80.64 454.1 80.44 454.6 81 455.1 81.18 455.6 81.51 456.1 82.94 456.6 82.26 457.1 81.26 457.61 81.98 458.12 81.72 458.64 80.5 459.15 81.37 459.66 80.87 460.18 80.98 460.69 81.38 461.2 80.53 461.77 80.38 462.34 80.43 462.91 79.83 463.49 79.84 464.06 80.98 464.63 80.62 465.2 81.26 465.77 81.59 466.34 80.33 466.91 80.89 467.49 81.39 468.06 80.41 468.63 81.23 469.2 80.41 469.74 80.15 470.28 80.19 470.82 79.14 471.36 79.18 471.9 79.78 472.41 79.65 472.92 79.6 473.44 80.58 473.95 80.39 474.46 80.07 474.98 80.64 475.49 81.08 476 82.7 476.57 82.92 477.14 82.54 477.71 82.63 478.29 83.11 478.86 83.64 479.43 83.75 480 84.04 480.5 83.64 481 82.64 481.5 82.63 482 82.68 482.5 81.95 483 82.78 483.5 82.39 484 81.91 484.51 83.04 485.02 82.85 485.54 83.31 486.05 83.05 486.56 83.15 487.08 83.68 487.59 83.92 488.1 84.36 488.67 83.31 489.24 83.86 489.81 84.37 490.39 84.42 490.96 84.92 491.53 84.95 492.1 84.16 492.7 84.89 493.3 85.28 493.9 85.42 494.5 83.58 495.1 84.78 495.7 84.42 496.3 85.18 496.9 85.55 497.5 85.37 498.07 85.92 498.64 85.49 499.21 86.02 499.79 85.33 500.36 86.05 500.93 85.81 501.5 85.99 502.02 86.3 502.54 86.21 503.07 86.32 503.59 85.81 504.11 84.7 504.63 84.63 505.16 84.2 505.68 83.54 506.2 83.21 506.77 83.37 507.33 83.2 507.9 83.64 508.47 83.69 509.03 85.17 509.6 85.35 510.16 84.87 510.71 85.61 511.27 85.61 511.83 86.18 512.39 86.8 512.94 87.24 513.5 86.8" fill="none" stroke="#000" stroke-width="1.0" stroke-linejoin="round" stroke-linecap="round"/>
<path d="M298 92.75 298.62 92.85 299.23 92.88 299.85 93.73 300.46 93.55 301.08 92.84 301.69 92.9 302.31 93.03 302.92 93.03 303.54 93.12 304.15 93.21 304.77 93.49 305.38 93.32 306 92.91 306.59 93.28 307.18 92.94 307.76 92.26 308.35 92.32 308.94 92.57 309.53 92.49 310.12 92.41 310.71 92.35 311.29 92.41 311.88 92.48 312.47 92.46 313.06 92.86 313.65 92.21 314.24 92.43 314.82 92.57 315.41 92.7 316 92.07 316.62 92.02 317.25 92.47 317.88 92.41 318.5 91.91 319.12 92.18 319.75 91.79 320.38 92.04 321 91.84 321.61 91.54 322.22 91.55 322.83 91.68 323.44 91.52 324.06 91.36 324.67 91.33 325.28 92.36 325.89 92.25 326.5 91.5" fill="none" stroke="#000" stroke-width="2.3" stroke-linejoin="round" stroke-linecap="round"/>
<path d="M339.25 88.5 339.77 88.71 340.29 88.6 340.81 88.47 341.34 89.24 341.86 89.62 342.38 90.2 342.9 90.65 343.47 90.61 344.05 90.53 344.62 90.4 345.2 90.61 345.77 90.25 346.35 90.72 346.93 90.62 347.5 90.25 348.08 90.39 348.66 90.6 349.24 90.76 349.82 89.95 350.4 90.36 350.98 91.2 351.56 91.27 352.14 90.73 352.72 90.48 353.3 90.87 353.88 91.2 354.46 90.41 355.04 90.75 355.62 91.08 356.2 91.17 356.78 90.93 357.36 91.11 357.94 90.52 358.52 90.35 359.1 90.77 359.71 90.72 360.31 90.51 360.92 91.19 361.52 90.82 362.13 90.87 362.73 90.63 363.34 90.15 363.94 90.35 364.55 89.65 365.15 90.34 365.76 90.42 366.36 90.29 366.97 90.09 367.57 89.52 368.18 89.5 368.78 89.54 369.39 89.73 369.99 89.38 370.6 89.07 371.21 88.92 371.81 88.88 372.42 89.77 373.02 89.72 373.63 90.1 374.23 89.6 374.84 88.91 375.44 88.62 376.05 89.04 376.65 88.81 377.26 88.8 377.86 89.05 378.47 89.17 379.07 89.04 379.68 89.73 380.28 89.6 380.89 89.27 381.49 89.23 382.1 89.21 382.7 89.17 383.3 89.17 383.9 89.62 384.5 88.98 385.1 89.04 385.7 89.6 386.3 89.26 386.9 89.47 387.5 89.3 388.1 89.61 388.7 90.06 389.3 89.95 389.9 90.36 390.5 89.92 391.1 89.99 391.7 89.93 392.3 90.1 392.9 90.08 393.5 89.85 394.11 89.81 394.72 89.47 395.33 89.4 395.94 89.64 396.55 89.59 397.15 89.31 397.76 88.98 398.37 89.1 398.98 88.8 399.59 88.69 400.2 89.13 400.77 88.17 401.34 88.08 401.91 86.91 402.49 86.94 403.06 86.88 403.63 86.87 404.2 86.56 404.65 87.5 405.1 88.09 405.55 88.8 406 89.57 406.45 90.25 406.9 90.51 407.49 90.07 408.07 90.06 408.66 89.61 409.25 89.23 409.83 89.22 410.42 89.41 411.01 89.97 411.6 90.06 412.18 89.88 412.77 89.8 413.36 89.82 413.94 90.09 414.53 89.79 415.12 88.96 415.7 89.07 416.29 89.37 416.88 89.72 417.47 89.59 418.05 89.45 418.64 89.95 419.23 90.08 419.81 90.35 420.4 89.67 421.01 89.97 421.62 89.5 422.23 89.62 422.84 89.22 423.45 89.09 424.05 89.64 424.66 89.54 425.27 89.04 425.88 89.19 426.49 89.43 427.1 89.86 427.71 89.32 428.32 89.37 428.93 89.31 429.54 89.22 430.15 89.59 430.75 88.83 431.36 89.16 431.97 88.89 432.58 89.59 433.19 89.69 433.8 89.31 434.39 89.59 434.98 89.92 435.57 89.64 436.16 89.56 436.75 89.79 437.34 89.15 437.93 89.2 438.52 89.12 439.11 89.12 439.69 89.77 440.28 89.61 440.87 90.15 441.46 89.52 442.05 89.9 442.64 89.1 443.23 88.97 443.82 89.61 444.41 89.63 445 88.76 445.59 89.39 446.17 89.73 446.76 88.92 447.35 88.95 447.93 88.67 448.52 88.68 449.11 89.28 449.7 88.71 450.28 89.09 450.87 88.12 451.46 88.83 452.04 88.42 452.63 88.35 453.22 89.23 453.8 89.14 454.39 89.28 454.98 88.89 455.57 88.82 456.15 88.97 456.74 89.53 457.33 89.72 457.91 89.14 458.5 89.26 459.11 88.64 459.72 88.38 460.33 88.15 460.94 88.46 461.55 88.16 462.15 88.4 462.76 88.93 463.37 88.59 463.98 88.57 464.59 88.79 465.2 88.98 465.81 88.62 466.42 88.87 467.03 88.98 467.64 88.69 468.25 89.11 468.85 88.55 469.46 88.55 470.07 88.41 470.68 88.07 471.29 88.03 471.9 88.23 472.5 88.09 473.1 87.93 473.7 87.82 474.3 87.31 474.9 87.31 475.5 87.69 476.1 86.93 476.7 87.29 477.3 86.72 477.84 87.01 478.38 87.89 478.92 88.96 479.46 88.81 480 88.83 480.61 88.92 481.21 89 481.81 88.95 482.42 88.43 483.02 88.72 483.63 88.51 484.24 88.9 484.84 88.68 485.44 87.96 486.05 89.31 486.66 89.56 487.26 89.63 487.87 89.45 488.47 89.57 489.08 89.35 489.68 89.18 490.29 89.15 490.89 89.65 491.5 89.42 492.1 88.96 492.69 89.02 493.27 88.77 493.86 88.49 494.45 88.53 495.03 88.75 495.62 89.18 496.21 89.06 496.8 88.87 497.38 88.94 497.97 88.84 498.56 88.87 499.14 89 499.73 88.89 500.32 89.44 500.9 89.37 501.49 89.74 502.08 89.28 502.67 89.41 503.25 89.37 503.84 89 504.43 89.56 505.01 89.26 505.6 89.22 506.21 89.22 506.82 89.1 507.42 89.34 508.03 88.7 508.64 88.56 509.25 89.19 509.85 88.74 510.46 88.81 511.07 88.91 511.68 89.55 512.28 89.45 512.89 89.22 513.5 88.8" fill="none" stroke="#000" stroke-width="2.3" stroke-linejoin="round" stroke-linecap="round"/>
<path d="M338.4 104.2V98.4" stroke="#000" stroke-width="1.1"/>
<path d="M336.3 98.8L338.4 94.3L340.5 98.8Z" fill="#000"/>
<path d="M296.7 138H514.4V213.5" fill="none" stroke="#5a5a5a" stroke-width="1.1"/>
<path d="M296.7 138V213.5H514.4" fill="none" stroke="#4a4a4a" stroke-width="1.1"/>
<path d="M293.9 213.5H296.7M293.9 198.4H296.7M293.9 183.3H296.7M293.9 168.2H296.7M293.9 153.1H296.7M293.9 138H296.7M296.7 213.5V216.7M346.3 213.5V216.7M395.9 213.5V216.7M445.5 213.5V216.7M495.1 213.5V216.7" stroke="#222" stroke-width="1.15" fill="none"/>
<path d="M295.7 209.72H297.4M295.7 205.95H297.4M295.7 202.18H297.4M295.7 194.62H297.4M295.7 190.85H297.4M295.7 187.07H297.4M295.7 179.53H297.4M295.7 175.75H297.4M295.7 171.97H297.4M295.7 164.43H297.4M295.7 160.65H297.4M295.7 156.88H297.4M295.7 149.32H297.4M295.7 145.55H297.4M295.7 141.78H297.4M309.1 213V215M321.5 213V215M333.9 213V215M358.7 213V215M371.1 213V215M383.5 213V215M408.3 213V215M420.7 213V215M433.1 213V215M457.9 213V215M470.3 213V215M482.7 213V215M507.5 213V215" stroke="#222" stroke-width="0.8" fill="none"/>
<text x="291.3" y="215.6" class="tk" text-anchor="end">40K</text>
<text x="291.3" y="200.5" class="tk" text-anchor="end">50K</text>
<text x="291.3" y="185.4" class="tk" text-anchor="end">60K</text>
<text x="291.3" y="170.3" class="tk" text-anchor="end">70K</text>
<text x="291.3" y="155.2" class="tk" text-anchor="end">80K</text>
<text x="291.3" y="140.1" class="tk" text-anchor="end">90K</text>
<text x="296.7" y="226.5" class="tk" text-anchor="middle">0</text>
<text x="346.3" y="226.5" class="tk" text-anchor="middle">100</text>
<text x="395.9" y="226.5" class="tk" text-anchor="middle">200</text>
<text x="445.5" y="226.5" class="tk" text-anchor="middle">300</text>
<text x="495.1" y="226.5" class="tk" text-anchor="middle">400</text>
<text x="405.22" y="231.5" class="tm" text-anchor="middle">Time</text>
<path d="M467.7 144.7H482.9" stroke="#000" stroke-width="2.6"/>
<path d="M467.7 156.1H482.9" stroke="#222" stroke-width="0.8"/>
<text x="486.2" y="148.4" class="lg">B6</text>
<text x="486.2" y="160" class="lg">Lck tg</text>
<path d="M298 204.4 298.61 204.08 299.23 204.03 299.84 203.71 300.45 204.35 301.06 203.89 301.67 203.87 302.29 204.3 302.9 204.35 303.47 205.2 304.05 204.65 304.62 204.34 305.2 202.76 305.77 203.38 306.35 204.26 306.93 203.96 307.5 204.14 308.07 204.34 308.65 204.99 309.23 203.87 309.8 204.82 310.38 205.65 310.95 205.07 311.53 204.26 312.1 204.62 312.69 204.21 313.28 204.71 313.86 203.87 314.45 204.08 315.04 204.02 315.62 204.84 316.21 204.41 316.8 205.38 317.38 204.8 317.95 204.19 318.52 203.89 319.1 203.39 319.68 203.72 320.25 204.97 320.82 204.62 321.4 205.71 321.98 206.03 322.56 206 323.13 205.98 323.71 205.64 324.29 204.84 324.87 204.6 325.44 203.89 326.02 204.94 326.6 203.5" fill="none" stroke="#000" stroke-width="1.0" stroke-linejoin="round" stroke-linecap="round"/>
<path d="M339.25 203.5 339.85 204.28 340.45 203.82 341.05 204.04 341.65 204.64 342.25 205.13 342.88 204.79 343.5 204.93 344.12 204.88 344.75 204.19 345.38 203.68 346 203.61 346.62 203.71 347.24 204.29 347.86 202.76 348.48 203.09 349.1 203.17 349.68 202.44 350.25 202.21 350.83 201.97 351.4 202.02 351.98 203.26 352.55 202.92 353.12 203.26 353.7 203.01 354.27 201.93 354.85 201.07 355.43 201.13 356 201.12 356.61 201.26 357.21 202.04 357.82 202.59 358.42 202.05 359.03 202.04 359.63 201.08 360.24 202.56 360.84 202.61 361.45 202.16 362.05 201.82 362.66 202.81 363.26 203.04 363.87 202.68 364.47 203.99 365.08 203.68 365.68 203.56 366.29 203.99 366.89 203.44 367.5 203.59 368.11 203.38 368.72 203.17 369.33 202.54 369.94 201.93 370.55 202.51 371.16 202.37 371.77 201.56 372.38 202.08 372.99 202.76 373.61 202.98 374.22 203.43 374.83 202.66 375.44 202.19 376.05 202.87 376.66 202.94 377.27 202.24 377.88 203.45 378.49 202.65 379.1 202.94 379.71 203 380.31 202.31 380.92 202.46 381.52 202.51 382.13 202.83 382.73 201.95 383.34 201.69 383.94 201.7 384.55 201.42 385.15 201.6 385.76 201.3 386.36 201.53 386.97 202.1 387.57 201.16 388.18 201.71 388.78 202.1 389.39 201.13 389.99 201.91 390.6 201.34 391.21 201.42 391.81 201.34 392.42 201.07 393.02 200.31 393.63 200.95 394.23 201.33 394.84 201.92 395.44 201.3 396.05 201.39 396.65 201.44 397.26 200.86 397.86 201.12 398.47 200.65 399.07 201.44 399.68 201.44 400.28 200.5 400.89 200.91 401.49 201.29 402.1 200.28 402.68 200.51 403.26 200.24 403.84 200.39 404.42 200.19 405 201.7 405.58 200.57 406.16 201.47 406.74 201.99 407.32 202.47 407.9 201.61 408.48 200.87 409.06 201.31 409.64 201.1 410.21 201.59 410.79 201.64 411.37 201.97 411.95 202.21 412.53 202.02 413.11 202.57 413.69 202.1 414.26 202.37 414.84 201.67 415.42 200.11 416 200.6 416.58 200.53 417.16 199.87 417.74 199.73 418.32 200.51 418.9 200.19 419.48 200.31 420.06 200.13 420.64 199.98 421.22 200.53 421.8 200.95 422.43 201.19 423.07 199.95 423.7 200.78 424.33 201.94 424.97 200.99 425.6 199.89 426.23 199.74 426.87 200.39 427.5 200.5 428.11 199.84 428.72 200.74 429.33 201.08 429.94 199.78 430.55 200.81 431.16 201.3 431.77 201.07 432.38 201.01 432.99 200.94 433.61 200.43 434.22 200.39 434.83 199.53 435.44 199.18 436.05 200.29 436.66 200.32 437.27 200.79 437.88 200.38 438.49 201.02 439.1 201.65 439.71 201.43 440.33 200.51 440.94 200.09 441.55 200.33 442.17 200.38 442.78 199.75 443.39 199.34 444.01 199.44 444.62 199.93 445.23 200.38 445.85 200.47 446.46 199.36 447.07 199.22 447.69 199.3 448.3 199.52 448.91 199.46 449.51 199.08 450.12 199.68 450.72 199.18 451.33 198.83 451.93 199.28 452.54 199.68 453.14 199.62 453.75 198.33 454.35 198.92 454.96 198.93 455.56 198.51 456.17 198.46 456.77 198.63 457.38 198.55 457.98 198.75 458.59 200.22 459.19 200.36 459.8 199.57 460.4 199.55 461 200.96 461.6 200.25 462.2 199.98 462.8 199.74 463.4 198.56 464 199.77 464.6 199.31 465.2 199.77 465.8 200.22 466.4 200.3 467 199.15 467.6 199.21 468.2 198.92 468.8 198.37 469.4 198.78 470 199.29 470.6 199.87 471.2 200.65 471.8 200.03 472.4 199.09 473 198.82 473.6 197.23 474.2 197.81 474.8 198.38 475.4 199.13 476 198.34 476.57 198.88 477.14 199.3 477.71 199.49 478.29 199.53 478.86 200.63 479.43 200.35 480 201.24 480.59 200.51 481.18 201.57 481.76 201.33 482.35 200.66 482.94 201.14 483.53 201.13 484.12 200.19 484.71 199.22 485.29 200.35 485.88 200.23 486.47 200.18 487.06 201.05 487.65 201.79 488.24 200.89 488.82 201.46 489.41 201.36 490 200.74 490.59 201.1 491.18 200.82 491.76 201.8 492.35 201.5 492.94 200.83 493.53 201.02 494.12 201.25 494.71 201.16 495.29 201.84 495.88 202.41 496.47 201.43 497.06 201.53 497.65 202.13 498.24 202.29 498.82 202.61 499.41 200.91 500 202.21 500.59 201.78 501.17 202.04 501.76 201.9 502.35 201.7 502.93 201.64 503.52 201.59 504.11 201.84 504.7 201.08 505.28 201.22 505.87 200.38 506.46 201.18 507.04 201.03 507.63 201 508.22 201.15 508.8 200.75 509.39 200.41 509.98 200.66 510.57 199.92 511.15 200.12 511.74 199.76 512.33 200.06 512.91 201.39 513.5 200" fill="none" stroke="#000" stroke-width="1.0" stroke-linejoin="round" stroke-linecap="round"/>
<path d="M298 202.1 298.61 202.3 299.23 202.27 299.84 202.13 300.45 201.48 301.06 202.32 301.67 202.37 302.29 202.37 302.9 202.51 303.47 202.5 304.05 201.77 304.62 201.06 305.2 201.46 305.77 201.4 306.35 200.98 306.93 201.22 307.5 200.43 308.07 201.33 308.65 201.24 309.23 201.1 309.8 201.52 310.38 201.77 310.95 202.03 311.53 202.04 312.1 202.26 312.69 202.34 313.28 201.83 313.86 201.84 314.45 202.05 315.04 201.31 315.62 201.94 316.21 201.73 316.8 201.45 317.38 201.44 317.95 201.5 318.52 201.22 319.1 201.97 319.68 201.25 320.25 201.15 320.82 201.17 321.4 201.01 321.98 200.31 322.56 201.2 323.13 201.3 323.71 201 324.29 201.51 324.87 202.07 325.44 201.6 326.02 201.43 326.6 200.6" fill="none" stroke="#000" stroke-width="2.3" stroke-linejoin="round" stroke-linecap="round"/>
<path d="M339.25 197 339.6 197 339.95 197.98 340.3 198.75 340.65 198.53 341 200.07 341.62 200.67 342.25 201.14 342.88 199.97 343.5 199.86 344.12 200 344.75 199.36 345.38 199.99 346 199.57 346.59 199.49 347.18 199.62 347.76 199.89 348.35 199.97 348.94 199.77 349.53 199.69 350.12 199.51 350.71 199.39 351.29 199.63 351.88 199.79 352.47 199.8 353.06 199.69 353.65 199.9 354.24 199.84 354.82 200.11 355.41 199.64 356 199.46 356.59 199.46 357.18 199.34 357.76 199.29 358.35 199.25 358.94 199.37 359.53 199.72 360.12 199.67 360.71 199.93 361.29 199.88 361.88 199.59 362.47 199.73 363.06 200.16 363.65 199.47 364.24 199.82 364.82 200.47 365.41 200.51 366 199.79 366.59 199.61 367.18 199.7 367.76 199.52 368.35 199.13 368.94 199.51 369.53 199.6 370.12 199.68 370.71 199.36 371.29 199.42 371.88 199.59 372.47 199.69 373.06 199.07 373.65 198.64 374.24 198.62 374.82 199.16 375.41 199.36 376 199.21 376.59 199.55 377.18 199.56 377.76 198.98 378.35 198.98 378.94 199.13 379.53 198.82 380.12 199.26 380.71 199.33 381.29 199.45 381.88 199.73 382.47 199.51 383.06 199.45 383.65 199.03 384.24 198.57 384.82 199.38 385.41 198.81 386 198.73 386.6 198.29 387.2 198.51 387.8 198.96 388.4 198.84 389 198.64 389.6 198.58 390.2 198.51 390.8 198.24 391.4 198.3 392 197.41 392.6 197.7 393.2 198.56 393.8 197.93 394.4 198.23 395 197.82 395.58 197.91 396.15 198.07 396.73 198.02 397.31 197.5 397.88 197.46 398.46 198.1 399.04 197.72 399.62 197.52 400.19 197.58 400.77 197.3 401.35 197.15 401.92 196.87 402.5 197.27 402.92 197.25 403.33 197.85 403.75 197.69 404.17 197.88 404.58 199.1 405 199.26 405.59 199.44 406.18 199.02 406.76 199.4 407.35 199.39 407.94 199.32 408.53 199.71 409.12 199.69 409.71 199.45 410.29 199.02 410.88 199.41 411.47 199.69 412.06 200.03 412.65 198.93 413.24 199.02 413.82 199.14 414.41 199.35 415 199.66 415.59 198.93 416.18 198.55 416.76 198.77 417.35 199.36 417.94 199.01 418.53 199.52 419.12 198.55 419.71 198.86 420.29 198.72 420.88 198.47 421.47 198.65 422.06 199.12 422.65 199.4 423.24 199.78 423.82 198.9 424.41 199.11 425 199.13 425.59 198.98 426.18 198.38 426.76 199.26 427.35 198.9 427.94 198.74 428.53 198.8 429.12 198.61 429.71 199.79 430.29 199.86 430.88 199.96 431.47 199.52 432.06 199.86 432.65 199.67 433.24 199.64 433.82 198.84 434.41 199.39 435 199.12 435.59 198.96 436.18 198.71 436.76 199.11 437.35 199.05 437.94 199.07 438.53 199.81 439.12 198.99 439.71 199.02 440.29 198.48 440.88 198.17 441.47 198.13 442.06 198.08 442.65 197.69 443.24 198.8 443.82 198.61 444.41 198.7 445 198.45 445.62 197.65 446.25 197.72 446.88 197.34 447.5 197.02 448.12 197.29 448.75 197.8 449.38 197.75 450 198.1 450.59 198.25 451.18 197.99 451.76 198.03 452.35 197.71 452.94 198.07 453.53 198.03 454.12 197.86 454.71 198.02 455.29 197.84 455.88 197.98 456.47 197.45 457.06 197.76 457.65 197.48 458.24 197.87 458.82 197.59 459.41 198.02 460 198.6 460.59 197.94 461.18 198.21 461.76 198.16 462.35 198.05 462.94 198.28 463.53 198.02 464.12 198.52 464.71 198.5 465.29 198.43 465.88 198.32 466.47 197.91 467.06 198.35 467.65 198.06 468.24 197.45 468.82 197.78 469.41 197.98 470 198.23 470.57 197.45 471.14 197.48 471.7 198.09 472.27 197.93 472.84 197.51 473.41 197.45 473.98 196.97 474.55 197.02 475.11 196.65 475.68 196.6 476.25 196.78 476.79 196.39 477.32 196.25 477.86 196.85 478.39 197.5 478.93 197.34 479.46 197.14 480 197.56 480.59 198.03 481.18 198.44 481.76 198.54 482.35 198.94 482.94 198.42 483.53 197.76 484.12 198.59 484.71 198.25 485.29 198.76 485.88 199.21 486.47 198.3 487.06 198.3 487.65 198.29 488.24 198.07 488.82 197.95 489.41 198.56 490 198.23 490.59 198.6 491.18 199.13 491.76 198.92 492.35 199.42 492.94 199.45 493.53 199.73 494.12 199.55 494.71 199.04 495.29 198.82 495.88 199.15 496.47 199.24 497.06 198.64 497.65 198.71 498.24 198.74 498.82 198.7 499.41 199.65 500 199.23 500.61 199.46 501.23 199.06 501.84 198.53 502.45 198.55 503.07 198.26 503.68 198.28 504.3 198.23 504.91 198.89 505.52 198.73 506.14 198.62 506.75 199.02 507.36 199.12 507.98 198.73 508.59 198.95 509.2 198.66 509.82 199.49 510.43 199.02 511.05 199.42 511.66 199.75 512.27 199.62 512.89 199.29 513.5 199" fill="none" stroke="#000" stroke-width="2.3" stroke-linejoin="round" stroke-linecap="round"/>
<path d="M338.4 213.5V207.7" stroke="#000" stroke-width="1.1"/>
<path d="M336.3 208.1L338.4 203.6L340.5 208.1Z" fill="#000"/>
<path d="M296.7 249.3H514.4V324.9" fill="none" stroke="#5a5a5a" stroke-width="1.1"/>
<path d="M296.7 249.3V324.9H514.4" fill="none" stroke="#4a4a4a" stroke-width="1.1"/>
<path d="M293.9 324.9H296.7M293.9 309.78H296.7M293.9 294.66H296.7M293.9 279.54H296.7M293.9 264.42H296.7M293.9 249.3H296.7M296.7 324.9V328.1M346.3 324.9V328.1M395.9 324.9V328.1M445.5 324.9V328.1M495.1 324.9V328.1" stroke="#222" stroke-width="1.15" fill="none"/>
<path d="M295.7 321.12H297.4M295.7 317.34H297.4M295.7 313.56H297.4M295.7 306H297.4M295.7 302.22H297.4M295.7 298.44H297.4M295.7 290.88H297.4M295.7 287.1H297.4M295.7 283.32H297.4M295.7 275.76H297.4M295.7 271.98H297.4M295.7 268.2H297.4M295.7 260.64H297.4M295.7 256.86H297.4M295.7 253.08H297.4M309.1 324.4V326.4M321.5 324.4V326.4M333.9 324.4V326.4M358.7 324.4V326.4M371.1 324.4V326.4M383.5 324.4V326.4M408.3 324.4V326.4M420.7 324.4V326.4M433.1 324.4V326.4M457.9 324.4V326.4M470.3 324.4V326.4M482.7 324.4V326.4M507.5 324.4V326.4" stroke="#222" stroke-width="0.8" fill="none"/>
<text x="291.3" y="327" class="tk" text-anchor="end">40K</text>
<text x="291.3" y="311.88" class="tk" text-anchor="end">50K</text>
<text x="291.3" y="296.76" class="tk" text-anchor="end">60K</text>
<text x="291.3" y="281.64" class="tk" text-anchor="end">70K</text>
<text x="291.3" y="266.52" class="tk" text-anchor="end">80K</text>
<text x="291.3" y="251.4" class="tk" text-anchor="end">90K</text>
<text x="296.7" y="337.9" class="tk" text-anchor="middle">0</text>
<text x="346.3" y="337.9" class="tk" text-anchor="middle">100</text>
<text x="395.9" y="337.9" class="tk" text-anchor="middle">200</text>
<text x="445.5" y="337.9" class="tk" text-anchor="middle">300</text>
<text x="495.1" y="337.9" class="tk" text-anchor="middle">400</text>
<text x="405.22" y="342.9" class="tm" text-anchor="middle">Time</text>
<path d="M449.2 256H464.4" stroke="#000" stroke-width="2.6"/>
<path d="M449.2 267.4H464.4" stroke="#222" stroke-width="0.8"/>
<text x="467.7" y="259.7" class="lg">B6</text>
<text x="467.7" y="271.3" class="lg">FU-Lck tg</text>
<path d="M298 311.1 298.58 312.31 299.17 313.12 299.75 312.96 300.33 311.88 300.92 312.38 301.5 312.21 302.08 311.8 302.67 310.65 303.25 309.93 303.83 310.61 304.42 310.35 305 310.01 305.61 310.98 306.23 310.8 306.84 310.46 307.45 310.93 308.06 309.85 308.67 309.22 309.29 309.38 309.9 309.52 310.49 309.54 311.07 310.41 311.66 310.02 312.24 310.1 312.83 310.12 313.41 310.78 314 310.7 314.56 309.99 315.12 310.39 315.68 311.33 316.24 311.44 316.8 311.95 317.37 312.04 317.93 311.59 318.5 311 319.07 311.12 319.63 310.45 320.2 310.5 320.78 310.94 321.37 310.36 321.95 310.61 322.53 310.84 323.12 310.83 323.7 310.05 324.26 311.45 324.82 310.5 325.38 311.91 325.94 311.55 326.5 311.8" fill="none" stroke="#000" stroke-width="1.0" stroke-linejoin="round" stroke-linecap="round"/>
<path d="M339.25 308.5 339.93 307.93 340.6 307.9 341.18 308.68 341.75 307.86 342.32 307.41 342.9 307.8 343.48 308.3 344.05 307.3 344.62 308.4 345.2 308.41 345.77 308.28 346.35 307.96 346.93 308.51 347.5 307.32 348.07 306.48 348.65 305.82 349.23 307.21 349.8 307.84 350.32 307.41 350.84 306.23 351.37 306.32 351.89 306.53 352.41 306.72 352.93 307.04 353.46 305.79 353.98 305.56 354.5 304.98 355.07 303.73 355.63 303.06 356.2 303.35 356.77 303.51 357.33 303.87 357.9 302.47 358.29 301.94 358.68 301.13 359.07 300.52 359.46 299.67 359.84 299.35 360.23 299.11 360.62 299.43 361.01 299.18 361.4 298.46 361.8 298.17 362.2 297.33 362.6 297.21 363 296 363.4 296.24 363.8 296.82 364.27 296.21 364.73 295.72 365.2 295.45 365.67 294.19 366.13 294.2 366.6 294.51 367.05 294.11 367.5 293.33 367.95 293.01 368.4 291.28 368.85 290.21 369.3 291.82 369.86 291.71 370.42 292.07 370.98 291.46 371.54 290.82 372.1 290.31 372.62 290.06 373.15 289.42 373.68 288.79 374.2 287.68 374.73 287.22 375.25 288.33 375.78 287.99 376.3 287.76 376.89 288.17 377.47 287.71 378.06 287.93 378.64 286.72 379.23 287.02 379.81 286.3 380.4 286.29 381 286.07 381.6 286.49 382.2 285.76 382.8 286.46 383.4 286.59 384 285.75 384.6 284.93 385.2 284.37 385.8 284.58 386.4 285.47 387 285.7 387.6 284.52 388.2 284.31 388.8 283.64 389.31 283.18 389.82 283.41 390.34 282.59 390.85 282.81 391.36 283.3 391.88 282.62 392.39 282.36 392.9 281.81 393.52 282.26 394.14 281.67 394.76 282.22 395.38 282.81 396 282.69 396.6 282.19 397.2 282.21 397.8 282.35 398.4 281.68 399 281.38 399.6 281.79 400.2 281.32 400.79 281.27 401.37 280.43 401.96 280.78 402.54 280.6 403.13 281.7 403.71 280.76 404.3 280.69 404.86 280.97 405.42 281.03 405.98 280.5 406.54 281.56 407.1 282.01 407.66 281.9 408.22 281.99 408.78 282.56 409.34 283.34 409.9 283.74 410.46 284.29 411.02 283.51 411.58 283.65 412.14 283.63 412.7 283.5 413.38 284.08 414.05 283.69 414.72 283.6 415.4 283.69 415.92 283.14 416.45 284.14 416.98 285.11 417.5 284.41 418.02 284.37 418.55 284.81 419.08 285.81 419.6 284.44 420.16 284.66 420.72 283.98 421.28 284.75 421.84 284.4 422.4 285.2 422.87 284.61 423.33 285.6 423.8 284.07 424.27 283.76 424.73 282.55 425.2 283.03 425.65 283.56 426.1 284.85 426.55 285.34 427 287.02 427.45 286.74 427.9 286.19 428.5 287.05 429.1 286.82 429.7 286.01 430.3 286.78 430.9 286.89 431.5 287.08 432.1 287.09 432.62 288.3 433.15 288.91 433.68 289.38 434.2 288.97 434.73 288.42 435.25 289.95 435.78 289.75 436.3 289.34 436.89 289.02 437.47 289.64 438.06 290.29 438.64 289.93 439.23 289.44 439.81 289.86 440.4 290.48 441 290.39 441.6 291.15 442.2 291.35 442.8 291.15 443.4 291.52 444 290.87 444.6 289.84 445.2 290.88 445.8 290.91 446.4 290.99 447 291.7 447.6 291.2 448.2 291.48 448.8 292.36 449.39 293.1 449.97 292.95 450.56 292.08 451.14 291.55 451.73 291.5 452.31 290.98 452.9 291.13 453.52 291.77 454.14 292.66 454.76 293.78 455.38 293.54 456 293.21 456.57 293.02 457.14 292.67 457.71 293.64 458.29 293.65 458.86 293.47 459.43 292.82 460 294.57 460.62 294.77 461.25 295.38 461.88 295.7 462.5 295.24 463.12 294.91 463.75 294.66 464.38 294.62 465 293.86 465.62 293.88 466.25 294.92 466.88 295.56 467.5 296.07 468.12 296.4 468.75 297.63 469.38 296.61 470 296.31 470.62 296.89 471.25 295.73 471.88 296 472.5 295.95 473.12 296.24 473.75 296.55 474.38 295.82 475 296.35 475.62 296.07 476.25 296.61 476.88 296.47 477.5 297.23 478.12 296.58 478.75 296.77 479.38 296.68 480 296.71 480.62 297.8 481.25 297.01 481.88 296.32 482.5 297.63 483.12 297.07 483.75 296.43 484.38 296.89 485 296.74 485.62 297.37 486.25 298.07 486.88 297.6 487.5 297.24 488.12 297.36 488.75 297.39 489.38 297 490 297.33 490.62 297.6 491.25 297.62 491.88 298.9 492.5 298.77 493.12 298.48 493.75 299.18 494.38 299.54 495 299.98 495.62 298.86 496.25 299.23 496.88 298.77 497.5 299.08 498.12 298.11 498.75 298.54 499.38 299.38 500 299.37 500.62 299.61 501.25 299.37 501.88 299.33 502.5 299.67 503.12 299.97 503.75 300.18 504.38 300.1 505 301.06 505.61 301.86 506.21 301.64 506.82 301.59 507.43 301.23 508.04 301.91 508.64 301.37 509.25 299.9 509.86 300.38 510.46 300.47 511.07 301.1 511.68 301.35 512.29 300.62 512.89 302.06 513.5 301" fill="none" stroke="#000" stroke-width="1.0" stroke-linejoin="round" stroke-linecap="round"/>
<path d="M298 313.5 298.61 314.11 299.23 314.15 299.84 313.5 300.45 313.53 301.06 312.62 301.67 312.67 302.29 312.96 302.9 313.29 303.5 313.28 304.1 313.13 304.7 313.41 305.3 312.85 305.9 313.75 306.5 313.73 307.1 314.25 307.69 313.49 308.27 313.18 308.86 312.74 309.44 312.96 310.03 312.93 310.61 312.86 311.2 313.17 311.78 313.39 312.37 314 312.95 314.11 313.53 314.06 314.12 314.05 314.7 314.08 315.28 313.36 315.87 312.91 316.45 312.82 317.03 312.59 317.62 312.56 318.2 311.79 318.79 312.63 319.37 312.52 319.96 313.13 320.54 313.25 321.13 313.1 321.71 313.35 322.3 313.33 322.9 312.8 323.5 312.42 324.1 312.27 324.7 311.96 325.3 311.72 325.9 312.19 326.5 312.5" fill="none" stroke="#000" stroke-width="2.3" stroke-linejoin="round" stroke-linecap="round"/>
<path d="M339.25 309 339.71 309.31 340.16 309.84 340.62 310.39 341.07 311.08 341.53 310.89 341.99 311.17 342.44 311.35 342.9 312.1 343.47 312.49 344.05 311.83 344.62 311.85 345.2 311.8 345.77 311.78 346.35 311.01 346.93 312.46 347.5 313.04 348.11 312.96 348.72 312.94 349.33 313.16 349.94 312.57 350.55 312.12 351.16 311.96 351.77 311.94 352.38 311.36 352.99 312.24 353.61 312.39 354.22 311.74 354.83 312.01 355.44 311.79 356.05 312.15 356.66 312.53 357.27 312.95 357.88 313.03 358.49 313.21 359.1 312.83 359.71 311.81 360.31 312.38 360.92 311.84 361.52 311.49 362.13 311.49 362.73 311.56 363.34 311.01 363.94 311.25 364.55 311.96 365.15 311.86 365.76 311.64 366.36 311.82 366.97 312.18 367.57 312.81 368.18 311.87 368.78 311.59 369.39 311.44 369.99 311.58 370.6 311.77 371.21 311.57 371.81 311.42 372.42 311.72 373.02 311.18 373.63 311.82 374.23 311.53 374.84 311.3 375.44 311.38 376.05 310.63 376.65 310.62 377.26 310.62 377.86 311.2 378.47 311.81 379.07 311.45 379.68 311.15 380.28 311.28 380.89 311.26 381.49 311.02 382.1 310.43 382.71 310.78 383.32 310.62 383.94 310.95 384.55 310.72 385.16 310.57 385.77 310.17 386.38 310.09 386.99 310.3 387.61 309.55 388.22 309.8 388.83 309.76 389.44 309.72 390.05 309.87 390.66 310.31 391.28 308.88 391.89 309.26 392.5 309.57 393.08 309.13 393.67 309.64 394.25 309.84 394.83 309.85 395.42 309.39 396 309.93 396.59 309.95 397.18 309.99 397.77 310.23 398.36 310.14 398.95 309.98 399.55 309.04 400.14 309.08 400.73 309.2 401.32 309.35 401.91 308.64 402.5 308.6 402.92 308.69 403.33 308.81 403.75 309.95 404.17 311.01 404.58 310.86 405 310.69 405.59 311.47 406.18 311.26 406.76 311.61 407.35 311.5 407.94 310.97 408.53 310.5 409.12 310.44 409.71 310.78 410.29 310.76 410.88 310.89 411.47 311.02 412.06 311.75 412.65 311.55 413.24 311.03 413.82 310.82 414.41 311.17 415 310.92 415.59 310.89 416.18 311.1 416.76 310.76 417.35 310.69 417.94 311.12 418.53 311.35 419.12 311.04 419.71 310.6 420.29 310.59 420.88 310.56 421.47 310.3 422.06 310.52 422.65 310.58 423.24 310.39 423.82 310.57 424.41 310.97 425 311.02 425.59 311.36 426.18 311.42 426.76 311.63 427.35 310.97 427.94 311.18 428.53 310.91 429.12 311.62 429.71 311.1 430.29 310.8 430.88 310.93 431.47 310.72 432.06 310.64 432.65 310.37 433.24 310.38 433.82 310.85 434.41 310.73 435 310.91 435.6 310.68 436.2 310.79 436.8 310.53 437.4 310.39 438 310.21 438.6 310.4 439.2 310.31 439.8 310.19 440.4 310.28 441 310.2 441.6 309.99 442.2 309.68 442.8 309.75 443.4 309.78 444 309.75 444.6 309.83 445.2 309.25 445.8 309.32 446.4 310.15 447 309.58 447.6 309.69 448.2 309.77 448.8 309.99 449.4 309.7 450 310.29 450.59 309.93 451.18 309.74 451.76 309.68 452.35 309.92 452.94 309.9 453.53 310.12 454.12 310.2 454.71 310.03 455.29 309.87 455.88 310.16 456.47 310.4 457.06 310.09 457.65 309.8 458.24 309.35 458.82 310.17 459.41 310.84 460 310.83 460.59 310.94 461.18 310.54 461.76 310.33 462.35 310.65 462.94 310.46 463.53 310.68 464.12 309.68 464.71 310.27 465.29 310.21 465.88 310.11 466.47 309.4 467.06 309.5 467.65 310.08 468.24 310.18 468.82 309.79 469.41 310.23 470 309.99 470.57 309.58 471.14 309.83 471.7 309.21 472.27 310 472.84 309.87 473.41 309.05 473.98 309.57 474.55 309.5 475.11 308.61 475.68 308.31 476.25 307.86 476.79 308.32 477.32 308.88 477.86 308.8 478.39 309.95 478.93 309.48 479.46 309.7 480 310.17 480.59 309.5 481.18 309.87 481.76 309.11 482.35 309.21 482.94 309.58 483.53 309.84 484.12 310.36 484.71 310.18 485.29 310.09 485.88 310.32 486.47 311.11 487.06 310.99 487.65 311.07 488.24 311.56 488.82 310.77 489.41 310.76 490 310.47 490.59 311.09 491.18 311.06 491.76 311.17 492.35 310.59 492.94 310.63 493.53 309.83 494.12 310.85 494.71 310.82 495.29 310.42 495.88 310.41 496.47 310.49 497.06 311.11 497.65 310.81 498.24 310.54 498.82 310.83 499.41 310.31 500 310.42 500.59 310.15 501.17 309.84 501.76 310.44 502.35 310.33 502.93 310.1 503.52 310.3 504.11 310.09 504.7 310.59 505.28 311.23 505.87 311.12 506.46 310.89 507.04 310.21 507.63 310.91 508.22 310.91 508.8 310.96 509.39 310.78 509.98 310.54 510.57 310.72 511.15 310.94 511.74 310.62 512.33 311.06 512.91 311.33 513.5 311" fill="none" stroke="#000" stroke-width="2.3" stroke-linejoin="round" stroke-linecap="round"/>
<path d="M338.4 324.9V319.1" stroke="#000" stroke-width="1.1"/>
<path d="M336.3 319.5L338.4 315L340.5 319.5Z" fill="#000"/>
</svg>
</body></html>
